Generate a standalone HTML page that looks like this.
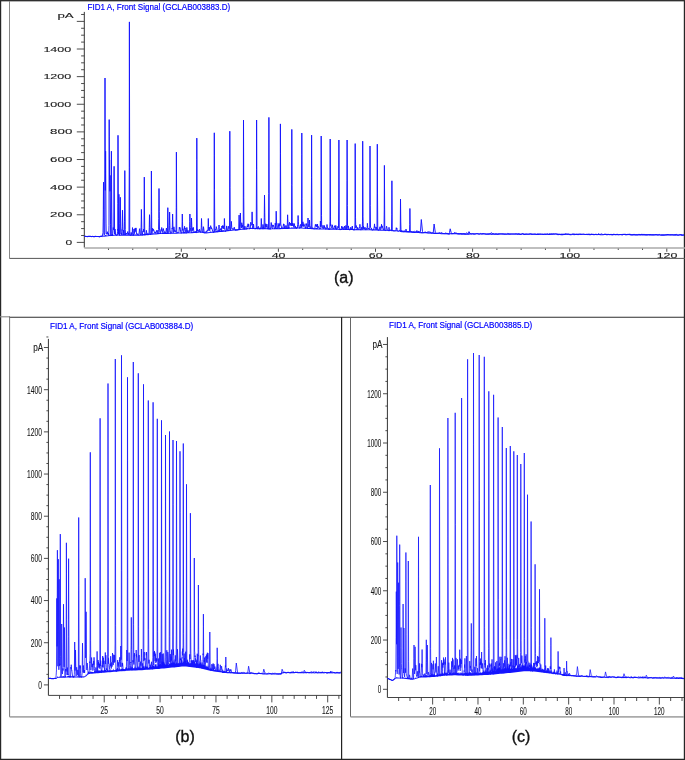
<!DOCTYPE html>
<html><head><meta charset="utf-8"><style>
html,body{margin:0;padding:0;background:#fff;}
svg{display:block;will-change:transform;}
.ta{font-family:"Liberation Sans",sans-serif;font-size:7px;fill:#1a1a1a;stroke:#1a1a1a;stroke-width:0.1px;}
.tb{font-family:"Liberation Sans",sans-serif;font-size:11px;fill:#1a1a1a;stroke:#1a1a1a;stroke-width:0.12px;}
.tt{font-family:"Liberation Sans",sans-serif;font-size:9.5px;fill:#0000ff;stroke:#0000ff;stroke-width:0.2px;}
.lab{font-family:"Liberation Sans",sans-serif;font-size:16px;fill:#111;stroke:#111;stroke-width:0.35px;}
</style></head><body>
<svg width="685" height="760" viewBox="0 0 685 760">
<rect x="0" y="0" width="685" height="760" fill="#fff"/>
<rect x="0.55" y="0.7" width="683.9" height="758.7" fill="none" stroke="#262626" stroke-width="1.3"/>
<line x1="9.5" y1="1" x2="9.5" y2="258.5" stroke="#888" stroke-width="1"/>
<line x1="9.5" y1="258.4" x2="685" y2="258.4" stroke="#555" stroke-width="1"/>
<line x1="0" y1="316.8" x2="10" y2="316.8" stroke="#888" stroke-width="1.1"/>
<line x1="9" y1="317.2" x2="685" y2="317.2" stroke="#2e2e2e" stroke-width="1.1"/>
<line x1="341.6" y1="316.9" x2="341.6" y2="760" stroke="#222" stroke-width="1.2"/>
<line x1="9.6" y1="317" x2="9.6" y2="717" stroke="#777" stroke-width="1"/>
<line x1="9.6" y1="716.9" x2="341" y2="716.9" stroke="#aaa" stroke-width="1.6"/>
<line x1="350.5" y1="317" x2="350.5" y2="717" stroke="#666" stroke-width="1"/>
<line x1="350.5" y1="716.9" x2="684" y2="716.9" stroke="#aaa" stroke-width="1.6"/>
<text x="87.6" y="9.9" class="tt" style="font-size:9.2px" textLength="142.6" lengthAdjust="spacingAndGlyphs">FID1 A, Front Signal (GCLAB003883.D)</text>
<text x="50.0" y="329.3" class="tt" style="font-size:8.7px" textLength="143.2" lengthAdjust="spacingAndGlyphs">FID1 A, Front Signal (GCLAB003884.D)</text>
<text x="389.1" y="328.2" class="tt" style="font-size:8.7px" textLength="143.1" lengthAdjust="spacingAndGlyphs">FID1 A, Front Signal (GCLAB003885.D)</text>
<line x1="84.3" y1="11.9" x2="84.3" y2="247.6" stroke="#333" stroke-width="1"/>
<line x1="76.8" y1="242.4" x2="84.3" y2="242.4" stroke="#3a3a3a" stroke-width="0.9"/>
<line x1="81.1" y1="235.49" x2="84.3" y2="235.49" stroke="#3a3a3a" stroke-width="0.9"/>
<line x1="81.1" y1="228.59" x2="84.3" y2="228.59" stroke="#3a3a3a" stroke-width="0.9"/>
<line x1="81.1" y1="221.68" x2="84.3" y2="221.68" stroke="#3a3a3a" stroke-width="0.9"/>
<line x1="76.8" y1="214.77" x2="84.3" y2="214.77" stroke="#3a3a3a" stroke-width="0.9"/>
<line x1="81.1" y1="207.87" x2="84.3" y2="207.87" stroke="#3a3a3a" stroke-width="0.9"/>
<line x1="81.1" y1="200.96" x2="84.3" y2="200.96" stroke="#3a3a3a" stroke-width="0.9"/>
<line x1="81.1" y1="194.05" x2="84.3" y2="194.05" stroke="#3a3a3a" stroke-width="0.9"/>
<line x1="76.8" y1="187.14" x2="84.3" y2="187.14" stroke="#3a3a3a" stroke-width="0.9"/>
<line x1="81.1" y1="180.24" x2="84.3" y2="180.24" stroke="#3a3a3a" stroke-width="0.9"/>
<line x1="81.1" y1="173.33" x2="84.3" y2="173.33" stroke="#3a3a3a" stroke-width="0.9"/>
<line x1="81.1" y1="166.42" x2="84.3" y2="166.42" stroke="#3a3a3a" stroke-width="0.9"/>
<line x1="76.8" y1="159.52" x2="84.3" y2="159.52" stroke="#3a3a3a" stroke-width="0.9"/>
<line x1="81.1" y1="152.61" x2="84.3" y2="152.61" stroke="#3a3a3a" stroke-width="0.9"/>
<line x1="81.1" y1="145.7" x2="84.3" y2="145.7" stroke="#3a3a3a" stroke-width="0.9"/>
<line x1="81.1" y1="138.8" x2="84.3" y2="138.8" stroke="#3a3a3a" stroke-width="0.9"/>
<line x1="76.8" y1="131.89" x2="84.3" y2="131.89" stroke="#3a3a3a" stroke-width="0.9"/>
<line x1="81.1" y1="124.98" x2="84.3" y2="124.98" stroke="#3a3a3a" stroke-width="0.9"/>
<line x1="81.1" y1="118.07" x2="84.3" y2="118.07" stroke="#3a3a3a" stroke-width="0.9"/>
<line x1="81.1" y1="111.17" x2="84.3" y2="111.17" stroke="#3a3a3a" stroke-width="0.9"/>
<line x1="76.8" y1="104.26" x2="84.3" y2="104.26" stroke="#3a3a3a" stroke-width="0.9"/>
<line x1="81.1" y1="97.35" x2="84.3" y2="97.35" stroke="#3a3a3a" stroke-width="0.9"/>
<line x1="81.1" y1="90.45" x2="84.3" y2="90.45" stroke="#3a3a3a" stroke-width="0.9"/>
<line x1="81.1" y1="83.54" x2="84.3" y2="83.54" stroke="#3a3a3a" stroke-width="0.9"/>
<line x1="76.8" y1="76.63" x2="84.3" y2="76.63" stroke="#3a3a3a" stroke-width="0.9"/>
<line x1="81.1" y1="69.72" x2="84.3" y2="69.72" stroke="#3a3a3a" stroke-width="0.9"/>
<line x1="81.1" y1="62.82" x2="84.3" y2="62.82" stroke="#3a3a3a" stroke-width="0.9"/>
<line x1="81.1" y1="55.91" x2="84.3" y2="55.91" stroke="#3a3a3a" stroke-width="0.9"/>
<line x1="76.8" y1="49" x2="84.3" y2="49" stroke="#3a3a3a" stroke-width="0.9"/>
<line x1="81.1" y1="42.1" x2="84.3" y2="42.1" stroke="#3a3a3a" stroke-width="0.9"/>
<line x1="81.1" y1="35.19" x2="84.3" y2="35.19" stroke="#3a3a3a" stroke-width="0.9"/>
<line x1="81.1" y1="28.28" x2="84.3" y2="28.28" stroke="#3a3a3a" stroke-width="0.9"/>
<line x1="76.8" y1="21.38" x2="84.3" y2="21.38" stroke="#3a3a3a" stroke-width="0.9"/>
<line x1="81.1" y1="14.47" x2="84.3" y2="14.47" stroke="#3a3a3a" stroke-width="0.9"/>
<text x="65.6" y="245" textLength="6.7" lengthAdjust="spacingAndGlyphs" class="ta">0</text>
<text x="50.1" y="217.37" textLength="22.2" lengthAdjust="spacingAndGlyphs" class="ta">200</text>
<text x="50.1" y="189.74" textLength="22.2" lengthAdjust="spacingAndGlyphs" class="ta">400</text>
<text x="50.1" y="162.12" textLength="22.2" lengthAdjust="spacingAndGlyphs" class="ta">600</text>
<text x="50.1" y="134.49" textLength="22.2" lengthAdjust="spacingAndGlyphs" class="ta">800</text>
<text x="43.4" y="106.86" textLength="27.9" lengthAdjust="spacingAndGlyphs" class="ta">1000</text>
<text x="43.4" y="79.23" textLength="27.9" lengthAdjust="spacingAndGlyphs" class="ta">1200</text>
<text x="43.4" y="51.6" textLength="27.9" lengthAdjust="spacingAndGlyphs" class="ta">1400</text>
<text x="57.4" y="17.6" textLength="16.3" lengthAdjust="spacingAndGlyphs" class="ta">pA</text>
<line x1="84.3" y1="248" x2="685" y2="248" stroke="#aaa" stroke-width="1.4"/>
<line x1="108.48" y1="248.6" x2="108.48" y2="250" stroke="#3a3a3a" stroke-width="0.9"/>
<line x1="132.75" y1="248.6" x2="132.75" y2="250" stroke="#3a3a3a" stroke-width="0.9"/>
<line x1="157.03" y1="248.6" x2="157.03" y2="250" stroke="#3a3a3a" stroke-width="0.9"/>
<line x1="181.3" y1="248.6" x2="181.3" y2="251.8" stroke="#3a3a3a" stroke-width="0.9"/>
<text x="174.6" y="258.1" textLength="13.8" lengthAdjust="spacingAndGlyphs" class="ta">20</text>
<line x1="205.58" y1="248.6" x2="205.58" y2="250" stroke="#3a3a3a" stroke-width="0.9"/>
<line x1="229.85" y1="248.6" x2="229.85" y2="250" stroke="#3a3a3a" stroke-width="0.9"/>
<line x1="254.12" y1="248.6" x2="254.12" y2="250" stroke="#3a3a3a" stroke-width="0.9"/>
<line x1="278.4" y1="248.6" x2="278.4" y2="251.8" stroke="#3a3a3a" stroke-width="0.9"/>
<text x="271.7" y="258.1" textLength="13.8" lengthAdjust="spacingAndGlyphs" class="ta">40</text>
<line x1="302.68" y1="248.6" x2="302.68" y2="250" stroke="#3a3a3a" stroke-width="0.9"/>
<line x1="326.95" y1="248.6" x2="326.95" y2="250" stroke="#3a3a3a" stroke-width="0.9"/>
<line x1="351.23" y1="248.6" x2="351.23" y2="250" stroke="#3a3a3a" stroke-width="0.9"/>
<line x1="375.5" y1="248.6" x2="375.5" y2="251.8" stroke="#3a3a3a" stroke-width="0.9"/>
<text x="368.8" y="258.1" textLength="13.8" lengthAdjust="spacingAndGlyphs" class="ta">60</text>
<line x1="399.78" y1="248.6" x2="399.78" y2="250" stroke="#3a3a3a" stroke-width="0.9"/>
<line x1="424.05" y1="248.6" x2="424.05" y2="250" stroke="#3a3a3a" stroke-width="0.9"/>
<line x1="448.33" y1="248.6" x2="448.33" y2="250" stroke="#3a3a3a" stroke-width="0.9"/>
<line x1="472.6" y1="248.6" x2="472.6" y2="251.8" stroke="#3a3a3a" stroke-width="0.9"/>
<text x="465.9" y="258.1" textLength="13.8" lengthAdjust="spacingAndGlyphs" class="ta">80</text>
<line x1="496.88" y1="248.6" x2="496.88" y2="250" stroke="#3a3a3a" stroke-width="0.9"/>
<line x1="521.15" y1="248.6" x2="521.15" y2="250" stroke="#3a3a3a" stroke-width="0.9"/>
<line x1="545.43" y1="248.6" x2="545.43" y2="250" stroke="#3a3a3a" stroke-width="0.9"/>
<line x1="569.7" y1="248.6" x2="569.7" y2="251.8" stroke="#3a3a3a" stroke-width="0.9"/>
<text x="559.55" y="258.1" textLength="20.7" lengthAdjust="spacingAndGlyphs" class="ta">100</text>
<line x1="593.98" y1="248.6" x2="593.98" y2="250" stroke="#3a3a3a" stroke-width="0.9"/>
<line x1="618.25" y1="248.6" x2="618.25" y2="250" stroke="#3a3a3a" stroke-width="0.9"/>
<line x1="642.53" y1="248.6" x2="642.53" y2="250" stroke="#3a3a3a" stroke-width="0.9"/>
<line x1="666.8" y1="248.6" x2="666.8" y2="251.8" stroke="#3a3a3a" stroke-width="0.9"/>
<text x="656.65" y="258.1" textLength="20.7" lengthAdjust="spacingAndGlyphs" class="ta">120</text>
<line x1="48.4" y1="338.9" x2="48.4" y2="695.4" stroke="#333" stroke-width="1"/>
<line x1="43.9" y1="684.9" x2="48.4" y2="684.9" stroke="#3a3a3a" stroke-width="0.9"/>
<line x1="46.4" y1="674.36" x2="48.4" y2="674.36" stroke="#3a3a3a" stroke-width="0.9"/>
<line x1="46.4" y1="663.81" x2="48.4" y2="663.81" stroke="#3a3a3a" stroke-width="0.9"/>
<line x1="46.4" y1="653.27" x2="48.4" y2="653.27" stroke="#3a3a3a" stroke-width="0.9"/>
<line x1="43.9" y1="642.73" x2="48.4" y2="642.73" stroke="#3a3a3a" stroke-width="0.9"/>
<line x1="46.4" y1="632.18" x2="48.4" y2="632.18" stroke="#3a3a3a" stroke-width="0.9"/>
<line x1="46.4" y1="621.64" x2="48.4" y2="621.64" stroke="#3a3a3a" stroke-width="0.9"/>
<line x1="46.4" y1="611.1" x2="48.4" y2="611.1" stroke="#3a3a3a" stroke-width="0.9"/>
<line x1="43.9" y1="600.56" x2="48.4" y2="600.56" stroke="#3a3a3a" stroke-width="0.9"/>
<line x1="46.4" y1="590.01" x2="48.4" y2="590.01" stroke="#3a3a3a" stroke-width="0.9"/>
<line x1="46.4" y1="579.47" x2="48.4" y2="579.47" stroke="#3a3a3a" stroke-width="0.9"/>
<line x1="46.4" y1="568.93" x2="48.4" y2="568.93" stroke="#3a3a3a" stroke-width="0.9"/>
<line x1="43.9" y1="558.38" x2="48.4" y2="558.38" stroke="#3a3a3a" stroke-width="0.9"/>
<line x1="46.4" y1="547.84" x2="48.4" y2="547.84" stroke="#3a3a3a" stroke-width="0.9"/>
<line x1="46.4" y1="537.3" x2="48.4" y2="537.3" stroke="#3a3a3a" stroke-width="0.9"/>
<line x1="46.4" y1="526.75" x2="48.4" y2="526.75" stroke="#3a3a3a" stroke-width="0.9"/>
<line x1="43.9" y1="516.21" x2="48.4" y2="516.21" stroke="#3a3a3a" stroke-width="0.9"/>
<line x1="46.4" y1="505.67" x2="48.4" y2="505.67" stroke="#3a3a3a" stroke-width="0.9"/>
<line x1="46.4" y1="495.13" x2="48.4" y2="495.13" stroke="#3a3a3a" stroke-width="0.9"/>
<line x1="46.4" y1="484.58" x2="48.4" y2="484.58" stroke="#3a3a3a" stroke-width="0.9"/>
<line x1="43.9" y1="474.04" x2="48.4" y2="474.04" stroke="#3a3a3a" stroke-width="0.9"/>
<line x1="46.4" y1="463.5" x2="48.4" y2="463.5" stroke="#3a3a3a" stroke-width="0.9"/>
<line x1="46.4" y1="452.95" x2="48.4" y2="452.95" stroke="#3a3a3a" stroke-width="0.9"/>
<line x1="46.4" y1="442.41" x2="48.4" y2="442.41" stroke="#3a3a3a" stroke-width="0.9"/>
<line x1="43.9" y1="431.87" x2="48.4" y2="431.87" stroke="#3a3a3a" stroke-width="0.9"/>
<line x1="46.4" y1="421.32" x2="48.4" y2="421.32" stroke="#3a3a3a" stroke-width="0.9"/>
<line x1="46.4" y1="410.78" x2="48.4" y2="410.78" stroke="#3a3a3a" stroke-width="0.9"/>
<line x1="46.4" y1="400.24" x2="48.4" y2="400.24" stroke="#3a3a3a" stroke-width="0.9"/>
<line x1="43.9" y1="389.7" x2="48.4" y2="389.7" stroke="#3a3a3a" stroke-width="0.9"/>
<line x1="46.4" y1="379.15" x2="48.4" y2="379.15" stroke="#3a3a3a" stroke-width="0.9"/>
<line x1="46.4" y1="368.61" x2="48.4" y2="368.61" stroke="#3a3a3a" stroke-width="0.9"/>
<line x1="46.4" y1="358.07" x2="48.4" y2="358.07" stroke="#3a3a3a" stroke-width="0.9"/>
<line x1="43.9" y1="347.52" x2="48.4" y2="347.52" stroke="#3a3a3a" stroke-width="0.9"/>
<line x1="46.4" y1="336.98" x2="48.4" y2="336.98" stroke="#3a3a3a" stroke-width="0.9"/>
<text x="38.28" y="688.8" textLength="3.72" lengthAdjust="spacingAndGlyphs" class="tb">0</text>
<text x="30.84" y="646.63" textLength="11.16" lengthAdjust="spacingAndGlyphs" class="tb">200</text>
<text x="30.84" y="604.46" textLength="11.16" lengthAdjust="spacingAndGlyphs" class="tb">400</text>
<text x="30.84" y="562.28" textLength="11.16" lengthAdjust="spacingAndGlyphs" class="tb">600</text>
<text x="30.84" y="520.11" textLength="11.16" lengthAdjust="spacingAndGlyphs" class="tb">800</text>
<text x="27.12" y="477.94" textLength="14.88" lengthAdjust="spacingAndGlyphs" class="tb">1000</text>
<text x="27.12" y="435.77" textLength="14.88" lengthAdjust="spacingAndGlyphs" class="tb">1200</text>
<text x="27.12" y="393.6" textLength="14.88" lengthAdjust="spacingAndGlyphs" class="tb">1400</text>
<text x="33.2" y="351.42" textLength="10" lengthAdjust="spacingAndGlyphs" class="tb">pA</text>
<line x1="48.4" y1="695.4" x2="341" y2="695.4" stroke="#444" stroke-width="1"/>
<line x1="59.52" y1="695.4" x2="59.52" y2="698.9" stroke="#3a3a3a" stroke-width="0.9"/>
<line x1="70.7" y1="695.4" x2="70.7" y2="698.9" stroke="#3a3a3a" stroke-width="0.9"/>
<line x1="81.87" y1="695.4" x2="81.87" y2="698.9" stroke="#3a3a3a" stroke-width="0.9"/>
<line x1="93.05" y1="695.4" x2="93.05" y2="698.9" stroke="#3a3a3a" stroke-width="0.9"/>
<line x1="104.22" y1="695.4" x2="104.22" y2="702.4" stroke="#3a3a3a" stroke-width="0.9"/>
<text x="100.5" y="714.2" textLength="7.44" lengthAdjust="spacingAndGlyphs" class="tb">25</text>
<line x1="115.39" y1="695.4" x2="115.39" y2="698.9" stroke="#3a3a3a" stroke-width="0.9"/>
<line x1="126.57" y1="695.4" x2="126.57" y2="698.9" stroke="#3a3a3a" stroke-width="0.9"/>
<line x1="137.74" y1="695.4" x2="137.74" y2="698.9" stroke="#3a3a3a" stroke-width="0.9"/>
<line x1="148.92" y1="695.4" x2="148.92" y2="698.9" stroke="#3a3a3a" stroke-width="0.9"/>
<line x1="160.09" y1="695.4" x2="160.09" y2="702.4" stroke="#3a3a3a" stroke-width="0.9"/>
<text x="156.37" y="714.2" textLength="7.44" lengthAdjust="spacingAndGlyphs" class="tb">50</text>
<line x1="171.26" y1="695.4" x2="171.26" y2="698.9" stroke="#3a3a3a" stroke-width="0.9"/>
<line x1="182.44" y1="695.4" x2="182.44" y2="698.9" stroke="#3a3a3a" stroke-width="0.9"/>
<line x1="193.61" y1="695.4" x2="193.61" y2="698.9" stroke="#3a3a3a" stroke-width="0.9"/>
<line x1="204.79" y1="695.4" x2="204.79" y2="698.9" stroke="#3a3a3a" stroke-width="0.9"/>
<line x1="215.96" y1="695.4" x2="215.96" y2="702.4" stroke="#3a3a3a" stroke-width="0.9"/>
<text x="212.24" y="714.2" textLength="7.44" lengthAdjust="spacingAndGlyphs" class="tb">75</text>
<line x1="227.13" y1="695.4" x2="227.13" y2="698.9" stroke="#3a3a3a" stroke-width="0.9"/>
<line x1="238.31" y1="695.4" x2="238.31" y2="698.9" stroke="#3a3a3a" stroke-width="0.9"/>
<line x1="249.48" y1="695.4" x2="249.48" y2="698.9" stroke="#3a3a3a" stroke-width="0.9"/>
<line x1="260.66" y1="695.4" x2="260.66" y2="698.9" stroke="#3a3a3a" stroke-width="0.9"/>
<line x1="271.83" y1="695.4" x2="271.83" y2="702.4" stroke="#3a3a3a" stroke-width="0.9"/>
<text x="266.25" y="714.2" textLength="11.16" lengthAdjust="spacingAndGlyphs" class="tb">100</text>
<line x1="283" y1="695.4" x2="283" y2="698.9" stroke="#3a3a3a" stroke-width="0.9"/>
<line x1="294.18" y1="695.4" x2="294.18" y2="698.9" stroke="#3a3a3a" stroke-width="0.9"/>
<line x1="305.35" y1="695.4" x2="305.35" y2="698.9" stroke="#3a3a3a" stroke-width="0.9"/>
<line x1="316.53" y1="695.4" x2="316.53" y2="698.9" stroke="#3a3a3a" stroke-width="0.9"/>
<line x1="327.7" y1="695.4" x2="327.7" y2="702.4" stroke="#3a3a3a" stroke-width="0.9"/>
<text x="322.12" y="714.2" textLength="11.16" lengthAdjust="spacingAndGlyphs" class="tb">125</text>
<line x1="338.87" y1="695.4" x2="338.87" y2="698.9" stroke="#3a3a3a" stroke-width="0.9"/>
<line x1="387.4" y1="337.1" x2="387.4" y2="697.5" stroke="#333" stroke-width="1"/>
<line x1="383" y1="689.3" x2="387.4" y2="689.3" stroke="#3a3a3a" stroke-width="0.9"/>
<line x1="385.4" y1="676.98" x2="387.4" y2="676.98" stroke="#3a3a3a" stroke-width="0.9"/>
<line x1="385.4" y1="664.67" x2="387.4" y2="664.67" stroke="#3a3a3a" stroke-width="0.9"/>
<line x1="385.4" y1="652.35" x2="387.4" y2="652.35" stroke="#3a3a3a" stroke-width="0.9"/>
<line x1="383" y1="640.04" x2="387.4" y2="640.04" stroke="#3a3a3a" stroke-width="0.9"/>
<line x1="385.4" y1="627.72" x2="387.4" y2="627.72" stroke="#3a3a3a" stroke-width="0.9"/>
<line x1="385.4" y1="615.41" x2="387.4" y2="615.41" stroke="#3a3a3a" stroke-width="0.9"/>
<line x1="385.4" y1="603.09" x2="387.4" y2="603.09" stroke="#3a3a3a" stroke-width="0.9"/>
<line x1="383" y1="590.78" x2="387.4" y2="590.78" stroke="#3a3a3a" stroke-width="0.9"/>
<line x1="385.4" y1="578.46" x2="387.4" y2="578.46" stroke="#3a3a3a" stroke-width="0.9"/>
<line x1="385.4" y1="566.15" x2="387.4" y2="566.15" stroke="#3a3a3a" stroke-width="0.9"/>
<line x1="385.4" y1="553.83" x2="387.4" y2="553.83" stroke="#3a3a3a" stroke-width="0.9"/>
<line x1="383" y1="541.52" x2="387.4" y2="541.52" stroke="#3a3a3a" stroke-width="0.9"/>
<line x1="385.4" y1="529.2" x2="387.4" y2="529.2" stroke="#3a3a3a" stroke-width="0.9"/>
<line x1="385.4" y1="516.89" x2="387.4" y2="516.89" stroke="#3a3a3a" stroke-width="0.9"/>
<line x1="385.4" y1="504.57" x2="387.4" y2="504.57" stroke="#3a3a3a" stroke-width="0.9"/>
<line x1="383" y1="492.26" x2="387.4" y2="492.26" stroke="#3a3a3a" stroke-width="0.9"/>
<line x1="385.4" y1="479.94" x2="387.4" y2="479.94" stroke="#3a3a3a" stroke-width="0.9"/>
<line x1="385.4" y1="467.63" x2="387.4" y2="467.63" stroke="#3a3a3a" stroke-width="0.9"/>
<line x1="385.4" y1="455.31" x2="387.4" y2="455.31" stroke="#3a3a3a" stroke-width="0.9"/>
<line x1="383" y1="443" x2="387.4" y2="443" stroke="#3a3a3a" stroke-width="0.9"/>
<line x1="385.4" y1="430.68" x2="387.4" y2="430.68" stroke="#3a3a3a" stroke-width="0.9"/>
<line x1="385.4" y1="418.37" x2="387.4" y2="418.37" stroke="#3a3a3a" stroke-width="0.9"/>
<line x1="385.4" y1="406.05" x2="387.4" y2="406.05" stroke="#3a3a3a" stroke-width="0.9"/>
<line x1="383" y1="393.74" x2="387.4" y2="393.74" stroke="#3a3a3a" stroke-width="0.9"/>
<line x1="385.4" y1="381.42" x2="387.4" y2="381.42" stroke="#3a3a3a" stroke-width="0.9"/>
<line x1="385.4" y1="369.11" x2="387.4" y2="369.11" stroke="#3a3a3a" stroke-width="0.9"/>
<line x1="385.4" y1="356.79" x2="387.4" y2="356.79" stroke="#3a3a3a" stroke-width="0.9"/>
<line x1="383" y1="344.48" x2="387.4" y2="344.48" stroke="#3a3a3a" stroke-width="0.9"/>
<text x="377.7" y="693.2" textLength="3.5" lengthAdjust="spacingAndGlyphs" class="tb">0</text>
<text x="370.7" y="643.94" textLength="10.5" lengthAdjust="spacingAndGlyphs" class="tb">200</text>
<text x="370.7" y="594.68" textLength="10.5" lengthAdjust="spacingAndGlyphs" class="tb">400</text>
<text x="370.7" y="545.42" textLength="10.5" lengthAdjust="spacingAndGlyphs" class="tb">600</text>
<text x="370.7" y="496.16" textLength="10.5" lengthAdjust="spacingAndGlyphs" class="tb">800</text>
<text x="367.2" y="446.9" textLength="14" lengthAdjust="spacingAndGlyphs" class="tb">1000</text>
<text x="367.2" y="397.64" textLength="14" lengthAdjust="spacingAndGlyphs" class="tb">1200</text>
<text x="372.4" y="348.38" textLength="10" lengthAdjust="spacingAndGlyphs" class="tb">pA</text>
<line x1="387.4" y1="697.5" x2="684" y2="697.5" stroke="#444" stroke-width="1"/>
<line x1="398.63" y1="697.5" x2="398.63" y2="701" stroke="#3a3a3a" stroke-width="0.9"/>
<line x1="409.97" y1="697.5" x2="409.97" y2="701" stroke="#3a3a3a" stroke-width="0.9"/>
<line x1="421.31" y1="697.5" x2="421.31" y2="701" stroke="#3a3a3a" stroke-width="0.9"/>
<line x1="432.64" y1="697.5" x2="432.64" y2="704.5" stroke="#3a3a3a" stroke-width="0.9"/>
<text x="429.14" y="714.8" textLength="7" lengthAdjust="spacingAndGlyphs" class="tb">20</text>
<line x1="443.98" y1="697.5" x2="443.98" y2="701" stroke="#3a3a3a" stroke-width="0.9"/>
<line x1="455.31" y1="697.5" x2="455.31" y2="701" stroke="#3a3a3a" stroke-width="0.9"/>
<line x1="466.64" y1="697.5" x2="466.64" y2="701" stroke="#3a3a3a" stroke-width="0.9"/>
<line x1="477.98" y1="697.5" x2="477.98" y2="704.5" stroke="#3a3a3a" stroke-width="0.9"/>
<text x="474.48" y="714.8" textLength="7" lengthAdjust="spacingAndGlyphs" class="tb">40</text>
<line x1="489.31" y1="697.5" x2="489.31" y2="701" stroke="#3a3a3a" stroke-width="0.9"/>
<line x1="500.65" y1="697.5" x2="500.65" y2="701" stroke="#3a3a3a" stroke-width="0.9"/>
<line x1="511.99" y1="697.5" x2="511.99" y2="701" stroke="#3a3a3a" stroke-width="0.9"/>
<line x1="523.32" y1="697.5" x2="523.32" y2="704.5" stroke="#3a3a3a" stroke-width="0.9"/>
<text x="519.82" y="714.8" textLength="7" lengthAdjust="spacingAndGlyphs" class="tb">60</text>
<line x1="534.65" y1="697.5" x2="534.65" y2="701" stroke="#3a3a3a" stroke-width="0.9"/>
<line x1="545.99" y1="697.5" x2="545.99" y2="701" stroke="#3a3a3a" stroke-width="0.9"/>
<line x1="557.33" y1="697.5" x2="557.33" y2="701" stroke="#3a3a3a" stroke-width="0.9"/>
<line x1="568.66" y1="697.5" x2="568.66" y2="704.5" stroke="#3a3a3a" stroke-width="0.9"/>
<text x="565.16" y="714.8" textLength="7" lengthAdjust="spacingAndGlyphs" class="tb">80</text>
<line x1="580" y1="697.5" x2="580" y2="701" stroke="#3a3a3a" stroke-width="0.9"/>
<line x1="591.33" y1="697.5" x2="591.33" y2="701" stroke="#3a3a3a" stroke-width="0.9"/>
<line x1="602.66" y1="697.5" x2="602.66" y2="701" stroke="#3a3a3a" stroke-width="0.9"/>
<line x1="614" y1="697.5" x2="614" y2="704.5" stroke="#3a3a3a" stroke-width="0.9"/>
<text x="608.75" y="714.8" textLength="10.5" lengthAdjust="spacingAndGlyphs" class="tb">100</text>
<line x1="625.34" y1="697.5" x2="625.34" y2="701" stroke="#3a3a3a" stroke-width="0.9"/>
<line x1="636.67" y1="697.5" x2="636.67" y2="701" stroke="#3a3a3a" stroke-width="0.9"/>
<line x1="648" y1="697.5" x2="648" y2="701" stroke="#3a3a3a" stroke-width="0.9"/>
<line x1="659.34" y1="697.5" x2="659.34" y2="704.5" stroke="#3a3a3a" stroke-width="0.9"/>
<text x="654.09" y="714.8" textLength="10.5" lengthAdjust="spacingAndGlyphs" class="tb">120</text>
<line x1="670.67" y1="697.5" x2="670.67" y2="701" stroke="#3a3a3a" stroke-width="0.9"/>
<line x1="682.01" y1="697.5" x2="682.01" y2="701" stroke="#3a3a3a" stroke-width="0.9"/>
<g fill="#1414ff" stroke="none">
<path d="M102.5 236.5 103 235.91 103.5 235.39 104 235.51 104.5 235.69 105 235.05 105.5 234.98 106 235.28 106.5 235.24 107 235.43 107.5 235.49 108 235.23 108.5 234.96 109 235.33 109.5 234.61 110 235.15 110.5 235.1 111 235.15 111.5 234.14 112 234.44 112.5 234.22 113 234.5 113.5 234.91 114 234.69 114.5 234.48 115 234.74 115.5 233.87 116 234.56 116.5 234.73 117 234.07 117.5 234.75 118 233.93 118.5 234.51 119 234.41 119.5 234.62 120 234.49 120.5 234.74 121 234.82 121.5 234.04 122 234.72 122.5 234.16 123 234.75 123.5 233.91 124 234.02 124.5 234.21 125 234.21 125.5 234.43 126 234.26 126.5 234.83 127 234.55 127.5 234.14 128 234.79 128.5 234.02 129 234.07 129.5 234.64 130 234.68 130.5 234.6 131 234.67 131.5 233.94 132 234.68 132.5 234.91 133 234.89 133.5 234.33 134 233.96 134.5 234.59 135 234.6 135.5 234.54 136 234.31 136.5 234.84 137 234.49 137.5 234.55 138 234.48 138.5 234.89 139 234.9 139.5 234.77 140 234.1 140.5 234.73 141 234.42 141.5 234.66 142 234.74 142.5 234.71 143 233.96 143.5 233.96 144 234.35 144.5 233.97 145 233.93 145.5 233.59 146 233.46 146.5 234.07 147 233.32 147.5 233.31 148 233.73 148.5 233.32 149 233.74 149.5 233.8 150 233.86 150.5 233.14 151 233.84 151.5 233.85 152 233.13 152.5 233.14 153 233.44 153.5 232.98 154 233.68 154.5 233.53 155 233.47 155.5 233.33 156 233.49 156.5 233.5 157 233.29 157.5 232.62 158 232.46 158.5 232.75 159 233.02 159.5 233.19 160 232.36 160.5 232.89 161 232.64 161.5 233.23 162 233.13 162.5 232.46 163 232.5 163.5 232.37 164 232.71 164.5 232.88 165 232.71 165.5 232.37 166 232.95 166.5 232.72 167 232.95 167.5 232.42 168 233.06 168.5 232.5 169 232.13 169.5 233.02 170 232.56 170.5 232.49 171 232.22 171.5 232.53 172 232.83 172.5 232.69 173 232.01 173.5 232.07 174 232.85 174.5 232.86 175 232.85 175.5 232.86 176 232.56 176.5 232.78 177 232.03 177.5 232.29 178 232.75 178.5 232.4 179 232.59 179.5 232.42 180 232.64 180.5 232.66 181 232.64 181.5 232.48 182 232.11 182.5 232.28 183 232.65 183.5 232.06 184 231.84 184.5 231.96 185 231.92 185.5 232.59 186 232.27 186.5 232.55 187 231.9 187.5 232.47 188 231.94 188.5 232.39 189 231.93 189.5 232.32 190 232.47 190.5 232.2 191 232.24 191.5 231.54 192 232.18 192.5 231.95 193 231.87 193.5 231.33 194 232.16 194.5 231.71 195 231.77 195.5 231.48 196 231.13 196.5 231.85 197 231.41 197.5 231.58 198 231.51 198.5 231.86 199 231.13 199.5 230.87 200 231.57 200.5 231.67 201 230.94 201.5 231.94 202 232.02 202.5 232.09 203 231.46 203.5 231.6 204 232.02 204.5 231.9 205 232.44 205.5 232 206 232.29 206.5 232.17 207 232.24 207.5 232.19 208 232.28 208.5 232.33 209 232.02 209.5 232.13 210 231.62 210.5 231.43 211 231.51 211.5 231.76 212 231.9 212.5 231.73 213 231.59 213.5 231.38 214 230.9 214.5 231.75 215 231.41 215.5 231.35 216 231.05 216.5 230.77 217 230.87 217.5 231.01 218 230.81 218.5 230.87 219 230.58 219.5 230.74 220 230.71 220.5 231.1 221 230.31 221.5 230.89 222 230.61 222.5 230.29 223 230.05 223.5 229.96 224 230.86 224.5 230.64 225 230.58 225.5 230.46 226 230.59 226.5 230.19 227 230.52 227.5 230.32 228 229.54 228.5 229.75 229 230.02 229.5 230.24 230 229.31 230.5 229.59 231 230.02 231.5 229.87 232 229.5 232.5 229.4 233 229.77 233.5 228.94 234 229.61 234.5 229.61 235 228.92 235.5 229.57 236 229.03 236.5 229.44 237 229.03 237.5 229.29 238 229.16 238.5 228.45 239 228.98 239.5 228.97 240 228.73 240.5 229.01 241 229.04 241.5 228.83 242 228.88 242.5 228.89 243 228 243.5 228.87 244 228.12 244.5 227.9 245 228.16 245.5 228.69 246 228.3 246.5 228.59 247 228.09 247.5 227.93 248 228.34 248.5 228.41 249 227.97 249.5 228.29 250 228.1 250.5 227.92 251 227.35 251.5 227.97 252 228.15 252.5 227.52 253 227.49 253.5 227.85 254 228.23 254.5 228.17 255 228.01 255.5 227.87 256 228.18 256.5 227.59 257 227.55 257.5 227.44 258 227.51 258.5 228.33 259 227.91 259.5 228.33 260 227.53 260.5 227.75 261 227.74 261.5 228.32 262 228.39 262.5 227.7 263 227.97 263.5 227.96 264 228.13 264.5 227.76 265 228.28 265.5 228.34 266 228.29 266.5 228.34 267 228.03 267.5 227.7 268 228.51 268.5 228.53 269 228.2 269.5 228.02 270 228.49 270.5 228.42 271 228.53 271.5 228.53 272 228.18 272.5 227.96 273 227.98 273.5 228.42 274 228.44 274.5 227.58 275 228.06 275.5 228.17 276 227.86 276.5 227.8 277 228.02 277.5 228.35 278 227.63 278.5 228.25 279 228.33 279.5 228.12 280 227.93 280.5 227.81 281 228.21 281.5 227.69 282 227.92 282.5 228.18 283 227.46 283.5 227.51 284 227.36 284.5 227.64 285 228.08 285.5 227.49 286 227.31 286.5 227.75 287 227.26 287.5 227.16 288 227.84 288.5 227.17 289 227.16 289.5 227.34 290 228.01 290.5 227.79 291 227.51 291.5 227.5 292 227.3 292.5 227.42 293 227.85 293.5 227.02 294 227.49 294.5 227.05 295 227.75 295.5 226.85 296 227.41 296.5 227.13 297 227.15 297.5 226.95 298 227.53 298.5 227.7 299 227.46 299.5 227.62 300 227.29 300.5 226.99 301 227.52 301.5 227.72 302 227.79 302.5 227.56 303 227.43 303.5 227.88 304 227.4 304.5 227.86 305 227.95 305.5 227.15 306 227.68 306.5 227.26 307 227.75 307.5 228.09 308 228.05 308.5 227.93 309 227.74 309.5 227.61 310 227.67 310.5 227.82 311 228.23 311.5 228.11 312 228.19 312.5 228.11 313 228.34 313.5 228.13 314 228.24 314.5 228.56 315 227.89 315.5 228.18 316 227.94 316.5 228.03 317 228.05 317.5 227.72 318 228.44 318.5 228.44 319 228.68 319.5 228.18 320 228.29 320.5 228.3 321 227.79 321.5 228.65 322 228.64 322.5 228.17 323 228.08 323.5 228.46 324 228.77 324.5 228.59 325 228.11 325.5 228.49 326 228.54 326.5 228.61 327 228.39 327.5 228.43 328 228.34 328.5 228.14 329 228.29 329.5 228.69 330 228.8 330.5 228.29 331 228.29 331.5 228.13 332 228.87 332.5 228.26 333 228.21 333.5 228.96 334 228.84 334.5 228.55 335 228.97 335.5 228.35 336 228.91 336.5 228.54 337 228.91 337.5 228.98 338 229 338.5 228.78 339 228.56 339.5 229.02 340 228.62 340.5 228.96 341 228.68 341.5 228.96 342 229.09 342.5 229.13 343 229.17 343.5 228.68 344 228.97 344.5 229.18 345 228.5 345.5 228.77 346 229.24 346.5 228.71 347 228.86 347.5 229.01 348 228.97 348.5 228.46 349 229.09 349.5 228.86 350 228.87 350.5 229.12 351 229.14 351.5 228.76 352 228.9 352.5 229.08 353 229.03 353.5 229.27 354 228.76 354.5 229.37 355 228.94 355.5 229.13 356 229.31 356.5 229.02 357 229.03 357.5 229.4 358 229.14 358.5 229.38 359 228.84 359.5 229.29 360 229.3 360.5 229.38 361 229.47 361.5 229.41 362 229.44 362.5 229.08 363 228.85 363.5 229.43 364 229.49 364.5 229.2 365 229.5 365.5 229.33 366 229 366.5 229.48 367 229.08 367.5 229.25 368 229.56 368.5 229.49 369 229.22 369.5 229.58 370 229.54 370.5 229.26 371 229.02 371.5 229.33 372 229.2 372.5 229.65 373 229.52 373.5 229.53 374 228.99 374.5 229.54 375 229.17 375.5 229.75 376 229.49 376.5 229.11 377 229.26 377.5 229.47 378 229.79 378.5 229.15 379 229.87 379.5 229.14 380 229.37 380.5 229.45 381 229.65 381.5 229.93 382 229.84 382.5 229.59 383 229.61 383.5 229.86 384 229.5 384.5 230.08 385 229.99 385.5 230.11 386 230 386.5 229.61 387 229.67 387.5 230.16 388 230.09 388.5 230.21 389 229.84 389.5 230.05 390 230.21 390.5 230.14 391 229.72 391.5 230.15 392 229.95 392.5 230.03 393 230.19 393.5 230.15 394 230.31 394.5 230.43 395 230.27 395.5 230.44 396 230.46 396.5 230.58 397 230.07 397.5 230.53 398 230.7 398.5 230.79 399 230.77 399.5 230.35 400 230.79 400.5 230.61 401 230.93 401.5 230.71 402 230.89 402.5 230.73 403 230.92 403.5 231.06 404 231.15 404.5 231.01 405 230.87 405.5 231.03 406 231.21 406.5 231.33 407 231.01 407.5 231.09 408 231.53 408.5 231.3 409 231.28 409.5 231.39 410 231.23 410.5 231.33 411 231.72 411.5 231.31 412 231.74 412.5 231.75 413 231.43 413.5 231.89 414 231.83 414.5 231.75 415 231.94 415.5 231.97 416 231.75 416.5 231.88 417 231.84 417.5 231.85 418 231.84 418.5 231.86 419 231.93 419.5 231.88 420 232.15 420.5 232.09 421 232.2 421.5 232.01 422 232.2 422.5 232.32 423 232.25 423.5 232.42 424 232.49 424.5 232.45 425 232.54 425.5 232.59 426 232.61 426.5 232.54 427 232.45 427.5 232.69 428 232.56 428.5 232.74 429 232.66 429.5 232.75 430 232.74 430.5 232.67 431 232.81 431.5 232.84 432 232.76 432.5 232.95 433 232.92 433.5 232.84 434 232.81 434.5 232.78 435 233.03 435.5 232.96 436 233.07 436.5 232.98 437 232.96 437.5 233.16 438 233.15 438.5 233 439 233.19 439.5 233.14 440 233.11 440.5 233.27 441 233.17 441.5 233.35 442 233.33 442.5 233.38 443 233.37 443.5 233.42 444 233.46 444.5 233.34 445 233.49 445.5 233.44 446 233.47 446.5 233.42 447 233.45 447.5 233.52 448 233.62 448.5 233.54 449 233.67 449.5 233.55 450 233.69 450.5 233.7 451 233.71 451.5 233.69 452 233.63 452.5 233.63 453 233.66 453.5 233.66 454 233.73 454.5 233.73 455 233.74 455.5 233.73 456 233.68 456.5 233.66 457 233.77 457.5 233.69 458 233.7 458.5 233.76 459 233.74 459.5 233.74 460 233.79 460.5 233.77 461 233.74 461.5 233.76 462 233.76 462.5 233.82 463 233.79 463.5 233.81 464 233.79 464.5 233.83 465 233.82 465.5 233.84 466 233.82 466.5 233.83 467 233.86 467.5 233.86 468 233.86 468.5 233.86 469 233.87 469.5 233.88 470 233.88 470 234.18 468 234.17 466 234.16 464 234.16 462 234.15 460 234.14 458 234.13 456 234.12 454 234.12 452 234.11 450 234.1 448 234.02 446 233.94 444 233.87 442 233.79 440 233.71 438 233.63 436 233.56 434 233.48 432 233.4 430 233.3 428 233.2 426 233.1 424 233 422 232.9 420 232.8 418 232.7 416 232.6 414 232.5 412 232.4 410 232.3 408 232.15 406 232.01 404 231.86 402 231.71 400 231.57 398 231.42 396 231.27 394 231.16 392 231.09 390 231.02 388 230.95 386 230.87 384 230.8 382 230.73 380 230.65 378 230.58 376 230.51 374 230.44 372 230.39 370 230.36 368 230.33 366 230.3 364 230.27 362 230.24 360 230.21 358 230.19 356 230.16 354 230.13 352 230.1 350 230.07 348 230.04 346 230.01 344 229.98 342 229.94 340 229.9 338 229.86 336 229.82 334 229.78 332 229.74 330 229.7 328 229.66 326 229.62 324 229.58 322 229.54 320 229.5 318 229.46 316 229.42 314 229.34 312 229.22 310 229.1 308 228.98 306 228.86 304 228.74 302 228.62 300 228.5 298 228.57 296 228.63 294 228.7 292 228.77 290 228.83 288 228.9 286 228.97 284 229.03 282 229.08 280 229.13 278 229.19 276 229.24 274 229.29 272 229.35 270 229.4 268 229.36 266 229.32 264 229.27 262 229.23 260 229.19 258 229.15 256 229.11 254 229.06 252 229.02 250 229.09 248 229.28 246 229.47 244 229.65 242 229.84 240 230.03 238 230.21 236 230.4 234 230.61 232 230.83 230 231.04 228 231.26 226 231.47 224 231.69 222 231.9 220 232.09 218 232.28 216 232.46 214 232.65 212 232.84 210 233.03 208 233.21 206 233.4 204 233.13 202 232.87 200 232.6 198 232.74 196 232.88 194 233.02 192 233.16 190 233.3 188 233.35 186 233.41 184 233.46 182 233.51 180 233.57 178 233.62 176 233.67 174 233.73 172 233.78 170 233.83 168 233.89 166 233.94 164 233.99 162 234.05 160 234.1 158 234.24 156 234.38 154 234.52 152 234.66 150 234.8 148 235 146 235.2 144 235.4 142 235.6 140 235.8 138 235.78 136 235.77 134 235.75 132 235.74 130 235.72 128 235.7 126 235.69 124 235.67 122 235.66 120 235.64 118 235.62 116 235.61 114 235.7 112 235.89 110 236.08 108 236.27 106 236.46 104 236.66Z"/>
<path d="M56.3 678.5 56.8 677.45 57.3 677.06 57.8 676.08 58.3 676.96 58.8 676.98 59.3 676.49 59.8 676.79 60.3 676.16 60.8 676.85 61.3 676.03 61.8 676.75 62.3 676.46 62.8 676.02 63.3 676.33 63.8 676 64.3 676.27 64.8 676.82 65.3 676.01 65.8 676.36 66.3 676.62 66.8 676.69 67.3 675.99 67.8 676.31 68.3 675.84 68.8 676.05 69.3 675.78 69.8 676.27 70.3 676.11 70.8 676.21 71.3 676.56 71.8 675.77 72.3 676.52 72.8 676.02 73.3 675.79 73.8 676.19 74.3 676.65 74.8 675.98 75.3 676.18 75.8 676.64 76.3 676.71 76.8 676.34 77.3 676.72 77.8 675.86 78.3 676.38 78.8 676.37 79.3 676.48 79.8 676.22 80.3 675.89 80.8 676.58 81.3 676.53 81.8 676.32 82.3 676.6 82.8 676.31 83.3 676.37 83.8 676.49 84.3 676.18 84.8 676.28 85.3 676.32 85.8 674.53 86.3 674.95 86.8 674.27 87.3 673.73 87.8 672.14 88.3 671.45 88.8 672.09 89.3 672.18 89.8 672.5 90.3 670.84 90.8 672.31 91.3 671.61 91.8 671.95 92.3 671.94 92.8 671.84 93.3 672.05 93.8 672.16 94.3 671.33 94.8 670.64 95.3 670.97 95.8 671.8 96.3 670.75 96.8 671.87 97.3 671.3 97.8 670.23 98.3 669.91 98.8 671.05 99.3 670.02 99.8 670.87 100.3 670.76 100.8 670.57 101.3 669.37 101.8 670.05 102.3 670.68 102.8 669.99 103.3 670.17 103.8 670.78 104.3 669.68 104.8 669.52 105.3 670.06 105.8 669.03 106.3 671 106.8 670.17 107.3 669.79 107.8 670.42 108.3 670.66 108.8 669.47 109.3 670.08 109.8 670.36 110.3 670.61 110.8 668.41 111.3 670.06 111.8 670.4 112.3 670.21 112.8 670.1 113.3 668.48 113.8 670.13 114.3 669.92 114.8 670.14 115.3 669.41 115.8 669.9 116.3 669.6 116.8 668.53 117.3 667.85 117.8 668.11 118.3 669.87 118.8 669.28 119.3 667.9 119.8 669.73 120.3 669.48 120.8 668.82 121.3 669.03 121.8 667.96 122.3 668.01 122.8 668.68 123.3 669.11 123.8 669.1 124.3 668.99 124.8 669.24 125.3 667.87 125.8 669.03 126.3 667.01 126.8 667.78 127.3 669.02 127.8 668.1 128.3 667.75 128.8 668.89 129.3 667.99 129.8 668.81 130.3 667.04 130.8 668.78 131.3 667.45 131.8 666.18 132.3 666.68 132.8 668.42 133.3 667.67 133.8 668.55 134.3 668.14 134.8 666.51 135.3 666.66 135.8 668.63 136.3 667.99 136.8 667.22 137.3 668.39 137.8 666.62 138.3 666.25 138.8 667.42 139.3 667.93 139.8 666.36 140.3 667.47 140.8 668.22 141.3 668 141.8 668.18 142.3 666.17 142.8 667.26 143.3 666.6 143.8 666.11 144.3 665.43 144.8 667.87 145.3 667.33 145.8 665.69 146.3 666.08 146.8 667.25 147.3 666.37 147.8 667.61 148.3 667.63 148.8 667.74 149.3 667.05 149.8 667.36 150.3 666.52 150.8 664.64 151.3 667.28 151.8 666.06 152.3 664.68 152.8 665.69 153.3 665.85 153.8 664.72 154.3 666.99 154.8 663.55 155.3 664.72 155.8 664.01 156.3 663.78 156.8 666.49 157.3 666.46 157.8 666.14 158.3 664.87 158.8 662.42 159.3 662.46 159.8 664.97 160.3 663.85 160.8 663.06 161.3 664.98 161.8 661.27 162.3 661.31 162.8 662.58 163.3 661.28 163.8 661.82 164.3 662.64 164.8 664.29 165.3 664.39 165.8 664.5 166.3 664.98 166.8 660.34 167.3 664.09 167.8 664.87 168.3 663.9 168.8 664.6 169.3 663.15 169.8 663.66 170.3 664.22 170.8 662.81 171.3 663.08 171.8 663.32 172.3 660.47 172.8 663.43 173.3 662.15 173.8 659.81 174.3 659.12 174.8 662.88 175.3 664.02 175.8 658.99 176.3 661.95 176.8 663.34 177.3 663.59 177.8 663.15 178.3 662.78 178.8 663.39 179.3 663.56 179.8 658.12 180.3 659.42 180.8 663.24 181.3 661.56 181.8 659.37 182.3 661.3 182.8 663.13 183.3 662.08 183.8 661.81 184.3 658.19 184.8 660.52 185.3 661.28 185.8 660.28 186.3 663.09 186.8 660.01 187.3 659.17 187.8 660.23 188.3 662.17 188.8 662.59 189.3 663.51 189.8 663.44 190.3 663.29 190.8 661.96 191.3 659.84 191.8 663.24 192.3 662.02 192.8 661.03 193.3 661.13 193.8 664.05 194.3 659.03 194.8 661.6 195.3 663.28 195.8 663.63 196.3 661.05 196.8 659.19 197.3 663.35 197.8 663.09 198.3 662.27 198.8 664.39 199.3 663.52 199.8 660.37 200.3 663.09 200.8 661.66 201.3 664.99 201.8 661.95 202.3 662.81 202.8 665.76 203.3 664.74 203.8 664.24 204.3 665.05 204.8 665.17 205.3 666.78 205.8 665.9 206.3 666.87 206.8 665.36 207.3 667.27 207.8 665.13 208.3 667.07 208.8 668.31 209.3 668.08 209.8 668.9 210.3 667.54 210.8 669.24 211.3 668.2 211.8 669.05 212.3 667.94 212.8 669.56 213.3 668.49 213.8 668.52 214.3 669.73 214.8 669.97 215.3 669.7 215.8 669.21 216.3 670.11 216.8 670.48 217.3 670.02 217.8 669.34 218.3 670.67 218.8 669.29 219.3 670.37 219.8 670.98 220.3 671.11 220.8 670.87 221.3 670.78 221.8 671.22 222.3 671.35 222.8 670.96 223.3 671.33 223.8 671.18 224.3 671.24 224.8 670.99 225.3 671.23 225.8 671.66 226.3 671.76 226.8 671.12 227.3 671.94 227.8 671.97 228.3 672.04 228.8 671.51 229.3 671.85 229.8 671.56 230.3 671.91 230.8 672.17 231.3 672.18 231.8 672.04 232.3 672.39 232.8 672.13 233.3 672.42 233.8 672.59 234.3 672.56 234.8 672.54 235.3 672.72 235.8 672.53 236.3 672.61 236.8 672.8 237.3 672.77 237.8 672.9 238.3 672.99 238.8 673.08 239.3 673.09 239.8 673.17 240 673.5 238 673.38 236 673.26 234 673.14 232 673.02 230 672.9 228 672.78 226 672.66 224 672.54 222 672.42 220 672.3 218 672 216 671.7 214 671.4 212 671.1 210 670.8 208 670.3 206 669.8 204 669.3 202 668.8 200 668.3 198 668.03 196 667.77 194 667.5 192 667.23 190 666.97 188 666.7 186 666.43 184 666.4 182 666.6 180 666.8 178 667 176 667.2 174 667.4 172 667.6 170 667.8 168 668 166 668.2 164 668.4 162 668.6 160 668.8 158 668.95 156 669.1 154 669.25 152 669.4 150 669.55 148 669.7 146 669.85 144 670 142 670.15 140 670.3 138 670.34 136 670.38 134 670.42 132 670.46 130 670.5 128 670.67 126 670.84 124 671.01 122 671.17 120 671.34 118 671.51 116 671.68 114 671.85 112 672.02 110 672.19 108 672.36 106 672.52 104 672.69 102 672.86 100 673.03 98 673.2 96 673.37 94 673.54 92 673.7 90 673.87 88 674.51 86 676.57 84 677.59 82 677.58 80 677.57 78 677.55 76 677.54 74 677.53 72 677.51 70 677.5 68 677.56 66 677.62 64 677.68 62 677.75 60 677.81 58 677.87Z"/>
<path d="M395.5 678.3 396 677.28 396.5 676.95 397 677.75 397.5 677.33 398 677.51 398.5 677.4 399 677.73 399.5 677.69 400 677.49 400.5 677.67 401 677.48 401.5 677.77 402 677.75 402.5 677.19 403 677.56 403.5 677.52 404 677.31 404.5 677.77 405 678.02 405.5 677.4 406 677.69 406.5 677.66 407 677.76 407.5 677.35 408 678.12 408.5 677.74 409 678.23 409.5 678.1 410 678.06 410.5 678.48 411 678.69 411.5 678.46 412 678.25 412.5 678.47 413 678.68 413.5 678.31 414 678.57 414.5 678.41 415 678.14 415.5 677.39 416 677.86 416.5 677.73 417 677.56 417.5 677.4 418 677.06 418.5 676.52 419 675.95 419.5 676.44 420 676.21 420.5 676.28 421 676.24 421.5 675.49 422 675.85 422.5 676.22 423 676.34 423.5 675.32 424 675.43 424.5 675.14 425 676.12 425.5 675.59 426 674.73 426.5 675.38 427 674.51 427.5 675.96 428 674.28 428.5 675.96 429 675.43 429.5 675.89 430 674.43 430.5 674.7 431 673.89 431.5 674.32 432 673.87 432.5 674.89 433 673.67 433.5 674.3 434 675.16 434.5 673.58 435 675.03 435.5 675.27 436 675.33 436.5 674.63 437 675.03 437.5 673.24 438 673.1 438.5 674.77 439 674.83 439.5 674 440 674.59 440.5 673.8 441 673 441.5 674.23 442 673.83 442.5 672.47 443 673.62 443.5 673.76 444 672.31 444.5 672.52 445 672.24 445.5 672.83 446 673.49 446.5 672.76 447 672.32 447.5 672.85 448 673.73 448.5 673.61 449 673.35 449.5 672.36 450 672.94 450.5 672.93 451 672.09 451.5 673.76 452 672.63 452.5 673.34 453 672.77 453.5 671.92 454 673.43 454.5 671.46 455 673.63 455.5 672.67 456 672.73 456.5 673.44 457 672.69 457.5 672.94 458 673 458.5 672.24 459 673.78 459.5 673.21 460 672.04 460.5 673.68 461 671.76 461.5 673.6 462 672.4 462.5 673.67 463 673.09 463.5 673.17 464 673.83 464.5 672.37 465 673.04 465.5 672.42 466 672.89 466.5 672.85 467 672.94 467.5 673.54 468 671.69 468.5 673.93 469 671.78 469.5 671.84 470 673.07 470.5 672.12 471 672.45 471.5 672.64 472 673.47 472.5 673.38 473 673.27 473.5 673.35 474 671.15 474.5 673.2 475 673.05 475.5 672.93 476 671.57 476.5 672.69 477 672.43 477.5 673.2 478 673.12 478.5 673.44 479 673.19 479.5 673.06 480 671.12 480.5 672.29 481 673.18 481.5 672.24 482 673.03 482.5 671.69 483 672.04 483.5 670.22 484 672.43 484.5 670 485 672.31 485.5 669.04 486 670.7 486.5 672.53 487 669.61 487.5 671.85 488 671.47 488.5 672.07 489 668.95 489.5 672.06 490 669.29 490.5 670.9 491 669.36 491.5 671.1 492 671.65 492.5 667.45 493 668.98 493.5 671.14 494 666.53 494.5 666.85 495 670.82 495.5 671.16 496 668.63 496.5 670.8 497 667.74 497.5 669.28 498 667.78 498.5 668.6 499 667.24 499.5 666.82 500 668.23 500.5 668.24 501 669.61 501.5 670.29 502 670.34 502.5 666.21 503 669.89 503.5 668.85 504 669.33 504.5 667.61 505 668.09 505.5 665.84 506 668.52 506.5 668.85 507 667.13 507.5 666.44 508 665.03 508.5 668.87 509 665.22 509.5 664.41 510 664.34 510.5 669.34 511 668.24 511.5 665.73 512 665.23 512.5 669.29 513 667.9 513.5 665.8 514 665.49 514.5 666.91 515 668.47 515.5 667.5 516 668.8 516.5 667.83 517 667.19 517.5 664.51 518 666.09 518.5 667.06 519 667.81 519.5 667.43 520 665.27 520.5 666.62 521 667.83 521.5 663.95 522 665.63 522.5 662.63 523 665.74 523.5 665.11 524 666.25 524.5 665.07 525 662.67 525.5 662.16 526 664.66 526.5 666.14 527 667.69 527.5 663.35 528 666.39 528.5 666.45 529 667.76 529.5 667.82 530 666.45 530.5 662.28 531 664.18 531.5 664.43 532 664.73 532.5 667.2 533 667.72 533.5 665.63 534 668.19 534.5 666.01 535 666.57 535.5 666.6 536 668.52 536.5 668.78 537 667.51 537.5 668.89 538 667.04 538.5 668.69 539 667.55 539.5 667.11 540 668.01 540.5 668.52 541 669.79 541.5 669.53 542 667.14 542.5 670.06 543 670.18 543.5 669.76 544 669.78 544.5 669.15 545 670.78 545.5 668.87 546 671.37 546.5 669.73 547 670.51 547.5 669.61 548 671.59 548.5 670.51 549 669.84 549.5 670.8 550 672 550.5 670.3 551 670.28 551.5 672.28 552 670.95 552.5 672.49 553 672.57 553.5 671.39 554 671.69 554.5 671.23 555 672.11 555.5 672.45 556 672.92 556.5 672.55 557 671.8 557.5 672.63 558 672.31 558.5 673.47 559 672.82 559.5 672.94 560 673.83 560.5 673.03 561 673.95 561.5 674.01 562 674.2 562.5 673.73 563 674.34 563.5 673.54 564 674.57 564.5 674.01 565 674.19 565.5 674.44 566 674.5 566.5 674.35 567 674.57 567.5 674.95 568 674.56 568.5 674.95 569 674.86 569.5 674.96 570 674.75 570.5 675.14 571 674.93 571.5 675.36 572 675.34 572.5 675.24 573 675.33 573.5 675.29 574 675.59 574.5 675.44 575 675.52 575.5 675.75 576 675.8 576.5 675.77 577 675.75 577.5 675.89 578 675.97 578.5 676.02 579 676.06 579.5 676.14 580 676.2 580 676.5 578 676.37 576 676.23 574 676.1 572 675.97 570 675.83 568 675.7 566 675.57 564 675.37 562 675.11 560 674.85 558 674.59 556 674.33 554 674.07 552 673.81 550 673.55 548 673.29 546 673.03 544 672.76 542 672.48 540 672.2 538 671.92 536 671.64 534 671.46 532 671.38 530 671.3 528 671.22 526 671.14 524 671.22 522 671.46 520 671.7 518 671.94 516 672.18 514 672.42 512 672.66 510 672.9 508 673.09 506 673.28 504 673.47 502 673.66 500 673.85 498 674.04 496 674.23 494 674.42 492 674.61 490 674.8 488 674.9 486 675 484 675.1 482 675.2 480 675.3 478 675.4 476 675.5 474 675.6 472 675.7 470 675.8 468 675.73 466 675.67 464 675.6 462 675.53 460 675.47 458 675.4 456 675.33 454 675.33 452 675.4 450 675.47 448 675.54 446 675.61 444 675.68 442 675.9 440 676.2 438 676.49 436 676.78 434 676.97 432 677.08 430 677.2 428 677.31 426 677.43 424 677.5 422 677.5 420 677.5 418 678.16 416 678.81 414 679.47 412 679.67 410 679.41 408 679.16 406 678.96 404 678.75 402 678.6 400 678.6 398 678.6 396 678.6Z"/>
</g>
<g fill="none" stroke="#1414ff" stroke-width="1" stroke-linejoin="miter" stroke-miterlimit="2">
<path d="M84.5 236.5 102 236.5 102.25 236.43 103 232.81 103.25 217.88 103.5 182.2 103.75 209.61 104 234.22 104.25 235.11 104.5 234.69 104.75 232.18 105 78 105.25 190.38 105.5 173.58 105.6 151.2 106.02 223.08 106.19 233.35 106.25 233.73 106.5 234.18 106.71 233.36 107 234.1 107.32 231.71 107.75 233.96 108 234.49 108.23 233.09 108.75 235.28 109 225.31 109.2 119.6 109.25 136.11 109.5 179.96 109.6 160 109.75 183.01 110 191.3 110.1 175.4 110.5 224.24 110.75 235.71 111 235.68 111.25 184.55 111.4 151.2 111.75 211 112 235.59 112.5 235.54 112.75 233.3 113.28 227.52 113.5 229.24 113.75 229.97 114.1 166.3 114.58 234.08 114.75 232.16 115.01 228.99 115.75 235.31 117.25 235.32 117.5 231.78 117.65 229 117.75 229.57 117.85 203.5 118 135.3 118.25 206.34 118.5 234.12 118.75 210.5 118.9 194.3 119.25 223.37 119.5 235.34 119.75 235.34 120 227.33 120.3 197.3 120.75 231.96 121 233.7 121.12 232.91 121.5 234.62 121.75 232.15 121.95 229.74 122.03 230.38 122.25 226.75 122.5 210.2 122.75 222.93 123 234.78 123.46 231.73 123.5 231.9 123.64 230.2 124 233.46 124.25 234.65 124.5 221.91 124.8 170.6 125.25 229.61 125.5 234.9 126.05 233.52 126.25 232.97 126.75 234.15 127 234.49 127.5 233.38 127.72 231.57 128 233.25 128.25 234.09 128.48 233.13 129 234.65 129.25 167.48 129.4 21.9 129.75 234.2 130 235.42 130.5 235.42 130.75 234.37 131.15 232.38 132 235.43 132.25 232.76 132.5 227.6 132.83 232.79 133 234.54 133.25 235.09 133.5 235.45 133.75 233.24 134 229 134.25 232.27 134.5 233.57 134.82 229.44 135 229.79 135.18 228.03 135.5 230.33 135.75 231.59 135.98 227.9 136.5 234.04 136.75 234.41 137 233.86 137.5 234.67 137.75 233.67 138.25 235.17 138.5 235.21 139 234.18 139.5 229.13 139.75 228.78 139.79 228.59 140.1 232.18 140.25 233.71 141 235.1 141.25 219.66 141.4 209.4 141.75 227.76 142 235.3 142.25 235.28 142.91 231.22 143 231.59 143.25 231.83 143.55 229.01 144 231.91 144.25 190.28 144.3 177.1 144.5 210.02 144.75 235.03 145.25 234.97 145.9 234.06 146 233.79 146.37 230.3 147 234.37 147.25 234.78 149 234.6 149.25 227.78 149.5 214.7 149.75 224.72 150 234.5 151 234.43 151.25 214.24 151.4 171 151.62 211.33 151.75 233.58 152 233.44 152.58 228.27 153 230.92 153.25 230.5 153.45 229.17 153.5 229.42 153.76 230.04 154.5 232.94 154.75 233.38 155.22 231.77 156 233.58 156.25 232.79 156.64 230.67 156.75 231.07 157 230.38 157.05 230.16 158 233.38 158.25 232.05 158.56 229.35 158.75 218.37 159 188.5 159.25 211.44 159.5 230.46 159.51 230.41 160 232.57 160.25 233.62 160.5 232.3 160.83 230.21 161.02 229.47 161.25 230.7 161.5 230.19 161.7 227.52 162 230.39 162.25 232.53 162.64 231.22 162.75 231.26 162.92 229.67 163 230.18 163.25 229.02 163.32 228.51 164.25 233 164.5 232.72 164.84 231.5 165.25 232.52 165.5 233.09 165.75 233.42 166 231.47 166.41 228.05 167.25 233.03 167.5 228.15 167.8 207.7 168.25 231.27 168.5 232.13 168.55 231.94 168.75 232.49 168.98 231.94 169 232 169.25 230.51 169.36 225.73 169.6 212 170 229.43 170.06 230.17 170.5 232.34 170.75 233.51 171 233.33 171.53 232.61 171.75 232.68 172 230.06 172.17 228.07 172.28 228.98 172.5 219.12 172.6 214 173 229.75 173.25 231.98 173.5 230.6 173.88 226.84 174.5 231.29 174.75 231.77 175.04 230.39 175.5 231.97 175.75 232.08 176.04 231.15 176.25 207.51 176.4 152.1 176.75 232.72 177 233.27 177.74 232.36 178.25 232.81 178.5 232.52 178.65 232.23 178.75 232.36 179 231.31 179.35 227.15 179.5 228.39 179.75 229.1 179.95 227.41 180.75 232.1 181 233.24 181.25 233.23 181.5 232.7 181.75 231.41 182 229.17 182.3 214 182.5 221.77 182.75 230.35 182.91 228.73 183.5 232.91 183.75 233.17 184 231.15 184.56 226.34 185 229.06 185.11 228.06 185.75 232.76 186 233.11 186.25 233.1 186.5 231.08 186.83 227.45 187.25 230.8 187.5 232.39 187.75 231.67 187.93 230.27 188.25 232 188.5 232.92 188.75 232.48 189.25 231.11 189.5 231.59 189.75 221.51 189.9 214 190.25 227.44 190.28 227.48 191 231.73 191.25 227.82 191.5 218 191.75 225.52 192 231.34 192.36 230.01 192.42 230.03 192.67 228.26 192.75 228.67 193 229.06 193.2 227.25 193.75 230.84 194 231.7 194.25 232.21 194.5 232.46 195.11 231.3 196 232.4 196.25 232.56 196.5 232.55 196.75 159.56 196.8 138.1 197 191.74 197.25 231.11 197.58 229.44 197.75 229.38 198.25 231.28 198.4 231.55 198.5 231.49 198.92 230.11 199.25 230.66 199.56 229.2 200 230.96 200.25 231.76 200.5 232.37 201 232.43 201.25 227.68 201.5 218.5 201.75 225.62 202 228.13 202.26 230.68 202.5 231.89 202.75 232.28 203 231.73 203.47 226.72 204 230.81 204.25 232.32 204.5 232.72 204.75 232.93 205 232.81 205.5 232.07 205.62 231.76 206 232.47 206.25 231.94 206.44 231.21 206.75 231.97 207 231.52 207.23 230.05 207.39 229.9 207.5 230.34 207.75 230.67 207.85 230.94 208 229.88 208.3 218.5 208.57 226.45 208.75 230.3 209 230.28 209.25 227.15 209.5 229.34 209.75 230.73 210.21 227.47 210.25 227.64 210.49 227.33 210.66 225.68 211 227.9 211.25 229.03 211.37 227.54 211.5 228.68 211.74 228.36 211.9 228.37 212.75 231.63 213 232.44 213.75 232.37 214 231.97 214.25 155.42 214.3 132.8 214.5 189.33 214.75 231.74 215 231.03 215.38 229.33 215.56 228.99 215.75 229.73 216 228.87 216.32 226.63 217.25 231.14 217.5 232.02 217.75 232 218 231.48 218.19 230.97 218.5 231.52 218.75 229.55 219 225 219.25 228.46 219.5 231.83 219.75 231.45 220.35 229.12 220.5 229.52 220.63 229.07 220.75 229.44 221 228.47 221.03 228.12 221.25 229.65 221.5 231.19 221.9 226.07 222 227.01 222.25 227.62 222.5 225.6 223 228.55 223.25 226.82 223.37 225.77 223.5 226.61 223.75 227.92 224 228.99 224.25 223.59 224.4 218.5 224.75 227.56 225 231.28 226 231.17 226.25 230.22 226.63 225.91 227.25 230.75 227.5 231.01 227.75 230.4 228.36 226.24 229 229.21 229.25 229.5 229.57 228.5 229.75 153.83 229.8 131.2 230 187.75 230.25 229.91 230.5 229.99 231.08 226.35 231.25 225.04 231.4 221.4 231.75 227.88 232 228.63 232.12 228.22 232.5 229.11 232.75 229.24 232.88 229 233.25 229.46 233.5 228.91 233.66 228.43 233.75 228.61 234 228.75 234.26 227.2 235 230.21 238.5 229.87 238.75 228.68 239.1 215.1 239.5 226.97 239.75 229.75 240 229.73 240.25 219.6 240.4 213 240.75 224.86 241 226.79 241.25 227.81 241.5 228 241.78 222.76 242 225.75 242.25 226.96 242.46 224.86 243 228.66 243.16 228.44 243.25 228.57 243.5 120.1 243.75 197.7 244 229.35 244.25 229.33 244.5 228.03 244.85 226.07 245.5 228.59 245.75 229.19 246.25 229.14 246.5 229.08 247.29 225.71 247.75 227.05 248.01 223.75 248.25 226.02 248.5 226.25 248.66 224.11 249 227.2 249.25 228.86 250 228.79 250.25 227.96 250.56 224.37 250.74 222.26 251 224.46 251.25 225.33 251.28 225.16 251.75 224.26 251.76 224.33 251.88 221.41 252.1 211.9 252.5 225.53 252.75 228.74 253 228.74 253.25 227.35 253.51 224.04 254 228.46 254.25 228.77 256.25 228.81 256.5 169.46 256.6 120 256.75 166.37 257 225.75 257.25 228.77 257.75 228.84 258 228.16 258.4 226.42 259 228.27 259.25 228.87 260.25 228.89 260.5 228.65 260.75 228.03 260.99 227.02 261.3 218.5 261.75 228 262 228.93 262.25 228.94 262.5 228.19 262.97 224.45 263.75 228.96 264 228.97 264.25 217.39 264.5 195.1 264.75 212.25 265 228.99 265.25 227.71 265.72 223.72 266.25 226.95 266.5 227.33 266.89 224.08 267.5 227.77 267.75 229.05 268.5 229.07 268.75 193.54 268.9 117.4 269.25 228.45 269.5 229.09 270.5 229.09 270.75 226.93 271.21 222.53 272 227.95 272.25 227.1 272.5 225.31 272.72 224.83 273 226.19 273.25 225.83 273.36 225.21 274 227.7 274.25 228.48 274.5 228.82 274.75 228.97 275 227.57 275.28 223.11 275.5 225.6 275.75 228.24 276 220.54 276.2 211.2 276.5 221.96 276.65 225.14 277.11 227.55 277.5 228.29 277.75 227.22 278 224.66 278.09 223.4 278.25 224.07 278.75 227.02 279 228.07 279.44 223.62 279.75 225.86 280 224.66 280.2 221.2 280.4 123.9 280.5 153.7 280.75 224.2 280.76 224.12 281.75 228.42 282 228.78 282.25 228.77 282.65 227.82 282.75 227.99 283.24 225.97 283.25 226 283.5 223.84 283.67 224.71 283.75 225.32 283.93 224.21 284.75 228.2 285.09 226.62 285.25 227.21 285.5 227.4 285.97 225.33 287 228.51 287.25 227.53 287.6 214.8 287.75 218.99 287.98 222.43 288.5 226.61 288.75 228.21 289 226.46 289.5 222.18 290.03 225.35 290.19 225.23 290.25 225.44 290.5 225.23 290.74 223.04 291.25 225.39 291.5 225.91 291.68 184.8 291.8 129.4 292 185.68 292.25 225.73 292.43 223.27 292.5 223.95 292.75 225.69 293 223.39 293.12 224.09 293.75 226.83 294 225.3 294.1 224.47 294.27 223.54 294.75 226.34 295 227.51 295.31 226.13 296 228.3 297 228.3 297.25 227.94 297.77 224.17 298 218.86 298.1 215.5 298.32 221.28 298.5 224.61 299.25 228.18 299.75 228.21 300 226.97 300.44 224.41 301.25 227.85 301.5 227.35 301.75 154.66 301.8 133 302.04 198.27 302.25 225.41 302.5 226.33 302.75 224.39 302.9 221.8 303.25 226.48 303.5 226.44 303.87 223.74 304.25 225.75 304.5 225.4 305 226.99 305.5 228.45 305.75 226.67 306.07 223.63 306.25 224.85 306.5 223.96 306.51 223.81 306.82 226.62 307 228.11 307.5 228.49 307.75 225.01 308 218 308.25 223.42 308.5 226.55 308.61 226.38 309 227.29 309.25 225.75 309.5 220 309.84 226.07 310 227.05 310.15 226.59 310.7 227.82 311.25 228.39 311.5 177.73 311.6 135.1 311.75 175.08 312 228.92 312.25 228.71 312.75 227.67 313.5 228.89 313.75 229.03 314.5 229.07 314.75 228.74 315.41 224.48 315.75 226.08 315.81 226.23 316.08 224.2 316.5 226.49 316.69 225.51 317 226.69 317.25 227.38 317.5 224 317.79 227.07 318 227.82 318.4 226.48 318.66 227.02 318.75 227.33 319.25 228.55 319.5 228.96 319.88 228.7 320 228.76 320.25 224.24 320.4 221 320.75 226.82 321 220.75 321.2 136 321.5 215.46 321.7 226.09 322 227.78 322.25 227.41 322.5 227.83 322.75 227.19 322.99 225.25 323.5 228.28 323.75 228.79 324 228.27 324.28 226.15 324.36 225.47 324.75 227.85 325.02 227.19 325.5 228.93 325.75 229.31 326 229.32 326.5 228.14 326.57 228.16 326.75 227.68 327 224.5 327.25 226.95 327.5 228.22 327.71 227.84 328.25 228.9 328.5 229.31 329.75 229.39 330 221.18 330.2 139 330.5 216.05 330.55 225.57 330.75 224.78 330.79 224.48 331.25 226.75 331.5 227.64 331.75 227.97 331.97 227.38 332.3 224.84 333 228.65 333.25 228.42 333.38 228.2 334 228.99 334.25 227.47 334.4 226.4 334.5 226.91 334.75 226.11 334.83 225.61 335.5 228.65 335.8 225.5 336.25 229.17 336.5 229.53 336.75 228.96 337.13 227.89 337.25 228.14 337.5 228.49 338 226.13 338.5 227.85 338.75 201.07 338.9 140 339.25 229.08 339.5 229.59 341 229.62 341.25 228.88 341.76 226.05 342.54 229.14 342.75 227.88 342.89 226.9 343 227.43 343.25 227.75 343.29 227.64 344 229.11 344.25 228.42 344.5 226 344.75 227.18 345.25 229.35 345.5 228.67 345.95 225.39 346.5 228.23 346.75 229.23 347 180.78 347.1 140 347.36 205.52 347.5 225.69 348 228.71 348.25 227.24 348.4 225.88 349 229.64 349.25 229.76 350.25 229.77 350.5 229.06 350.82 227.15 351.25 229 351.5 229.17 351.89 228.54 352 228.67 352.3 226 352.75 229.47 353 229.81 354.5 229.84 354.75 229.64 355 222 355.2 143.6 355.5 217.11 355.75 227.95 356.2 225.5 357.25 229.63 357.62 227.39 358 229.08 358.25 229.89 358.5 229.62 358.75 229.25 359.3 227.56 359.5 227.82 359.75 226.51 359.9 224.3 360.25 228.28 360.5 229.85 361.25 229.93 361.5 229.03 361.83 227.14 362.25 228.86 362.5 221.88 362.7 141.2 363 216.85 363.25 228.89 363.5 226.29 363.75 228.09 364 228.17 364.1 227.65 364.5 229.21 364.71 228.95 364.75 229 365 227.61 365.05 227.27 365.5 229.68 366 229.31 366.25 229.48 366.5 228.97 366.74 228.17 367 228.82 367.25 225.95 367.4 223.3 367.55 225.34 367.75 227.66 368.25 229.21 368.71 228.12 369.5 229.49 369.75 229.64 370 146 370.25 205.7 370.5 227.51 370.75 227.86 371 228.41 371.25 228.26 371.32 227.97 372 229.84 372.25 230.09 372.75 230.1 373 229.79 373.28 228.88 373.5 229.4 373.75 229.68 374.36 225.85 374.5 223.9 374.75 227.07 375 227.62 375.12 226.83 375.5 228.72 375.75 229.8 375.87 229.64 376 229.27 376.4 227.21 377 229.42 377.25 163.76 377.3 144.2 377.5 193.1 377.75 230.18 378 230.28 378.75 230.31 379 230.11 379.69 227.5 379.75 227.67 380 227.84 380.14 226.68 380.5 228.78 380.75 229.71 381 228.95 381.25 227.89 381.37 226.34 381.5 224.3 381.75 227.4 382 225.98 382.01 225.78 382.25 226.48 382.3 226.17 382.76 228.14 383 228.67 383.07 228.49 384 230.23 384.25 209.79 384.4 165.4 384.75 230.16 385 230.54 385.75 230.56 386.52 226.14 386.7 226.71 387 228.2 387.25 229.26 387.5 230.06 388.25 230.64 388.5 230.66 388.75 229.52 389 227.3 389.5 230.7 389.75 230.6 390.38 230.01 391.25 230.66 391.5 230.77 391.75 214.88 391.9 180.8 392.25 230.52 392.5 230.81 394.75 230.89 395.75 230.78 396 230.28 396.3 227.7 396.5 229.05 396.75 228.4 396.8 228 397.25 230.79 397.5 231.04 398.75 231.18 399.46 230.35 400.25 231.12 400.5 199 400.75 221.96 401 230.65 401.45 230.02 402.5 231.21 402.75 231.47 403 231.45 404.1 230.79 404.5 231.01 404.88 230.85 405.5 231.18 405.75 230.8 406 229.1 406.36 231.03 406.5 231.62 407.5 231.82 409.5 231.96 409.75 224.51 409.9 208.5 410.25 231.69 410.72 231.25 411.75 232.03 412.5 232.08 413.25 231.68 413.75 231.44 413.95 231.14 414.25 231.5 414.51 231.27 415 231.72 416 232.26 416.5 232.32 416.9 230.5 417.25 231.82 417.5 232.38 418 232.4 418.25 232.33 418.84 230.97 419.25 231.68 419.5 231.93 419.87 231.55 420.25 231.86 420.5 231.07 421.3 219.5 422.5 231.62 422.75 232.64 423.5 232.67 424.29 232.22 425 232.56 425.64 232.04 426.5 232.62 426.75 232.54 427.43 231.86 428 232.32 428.6 231.78 429.25 232.31 429.5 232.22 429.83 231.61 430.75 232.92 431 233.05 431.75 233.05 432.8 232.73 433 232.79 433.25 232.64 434.1 224 435.25 232.17 435.5 232.33 436.25 233.08 437.75 233.31 438.5 233.35 439.75 232.79 440.75 233.19 441.25 233.08 441.71 232.43 442.5 233.36 442.75 233.52 444.5 233.59 444.75 233.56 445.68 233.02 447 233.66 447.5 233.7 448.29 233.58 449.25 233.76 449.5 232.67 450.2 228.8 451.25 232.84 451.5 233.74 451.75 233.77 452.32 233.64 453 233.76 453.25 233.7 454.28 232.7 454.5 232.85 454.79 232.39 455.25 233.13 455.5 233.16 455.91 232.85 457.5 233.71 457.75 233.81 465.5 233.86 466.67 232.89 467.57 233.43 468 233.54 468.25 233.49 469 231.6 470.2 233.71 471.75 233.89 475.5 233.9 476.86 233.61 478.25 233.85 479 233.77 479.75 233.84 480 233.78 480.53 233.45 481.5 233.89 483.75 233.93 484.75 233.84 486 233.94 490.5 233.96 491.4 232.6 492.5 233.76 492.75 233.97 500 234 501.35 233.63 503 234.01 505.25 234.02 506.09 233.9 506.75 233.98 507.75 233.42 509 233.93 509.75 234.04 516.75 234.08 518 233.95 518.25 233.73 518.4 233.5 518.75 233.92 519 234.04 521.5 234.11 521.75 234.02 522.28 233.51 523 234.02 523.57 233.97 524.5 234.12 529.5 234.15 530.75 234.04 532.25 234.16 538 234.19 538.25 234.18 538.91 233.93 539.75 234.16 541.75 234.21 543 234.13 544.75 234.22 546.75 234.2 547 234.18 547.75 233.83 548.75 234.15 549.38 233.69 550.25 234.15 550.75 234.15 551 234 551.5 234.25 552.25 234.23 553.45 233.77 554.25 233.99 554.63 233.9 555 233.98 555.5 233.91 557 234.28 565 234.32 565.79 233.77 566.75 234.27 568.25 234.34 571.25 234.35 572.12 234.13 572.5 234.21 573 234.14 573.3 234 573.75 234.16 574.25 234.09 575.75 234.38 576.25 234.38 576.86 233.99 577.75 234.39 578.51 234.25 579.5 234.4 582.25 234.41 583.18 234.21 584.25 234.41 590.75 234.45 591.56 234.18 592.5 234.42 594.25 234.47 595.25 234.43 597.5 234.49 598.42 233.84 599.5 234.43 600 234.5 600.25 234.44 601.28 233.87 602.75 234.46 603.5 234.52 604.58 234.2 605.5 234.45 608.25 234.55 612 234.57 613.42 234.43 614.25 234.51 614.78 234.45 616.5 234.59 618.5 234.61 619.25 234.56 620.75 234.62 621.75 234.47 622.75 234.63 623 234.64 624.01 234.29 625.25 234.62 626 234.65 627.27 234.38 629 234.67 638 234.73 638.84 234.61 640 234.74 645 234.77 646.08 234.66 647.75 234.78 648.75 234.79 650.04 234.41 651.75 234.79 654.75 234.83 657.25 234.84 658.09 234.57 658.5 234.66 659.25 234.42 660.25 234.75 660.77 234.62 661.75 234.87 669.25 234.91 670 234.7 671 234.92 676 234.95 676.69 234.4 677.25 234.75 677.75 234.74 678.5 234.85 678.75 234.86 679.33 234.56 680.25 234.92 682.5 234.99 683.52 234.88 684 234.93" stroke-width="0.95"/>
<path d="M48.6 678.5 55.85 678.5 56.1 675.64 56.35 672.11 56.46 669.93 56.8 598.4 57.1 646.39 57.35 566.96 57.4 550.2 57.85 666.23 58.1 621.5 58.3 559.2 58.6 631.07 58.85 669.79 59.2 579.3 59.6 658.83 59.68 666.06 59.8 663.77 59.88 665 60.1 664.47 60.3 534.1 60.6 656.31 60.85 676.59 61 675.97 61.1 676.26 61.35 673.25 61.7 624 62.1 667.27 62.21 673.13 62.35 674.05 62.6 672.1 62.88 668.47 63.1 670.53 63.35 633.1 63.5 604.2 63.85 656.05 64.1 666.88 64.4 627.5 64.85 672.92 65.1 677.35 65.35 673.01 65.55 669.4 65.6 670.03 65.85 669.31 65.87 668.97 66.1 671.34 66.35 573.37 66.4 542.8 66.6 619.22 66.85 672.44 67.01 674.76 67.1 675.08 67.36 667.56 67.6 672.33 67.85 675.03 67.96 674.25 68.1 674.92 68.35 636.7 68.6 558.7 68.85 619.4 69.1 675.27 69.35 676.37 69.6 677.21 70.35 677.2 70.6 675.06 70.9 667 71.1 669.23 71.26 664.71 71.42 667.8 71.6 669.77 71.72 670.27 71.74 669.96 72.6 676.36 72.85 677.22 74.1 677.23 74.35 674.45 74.7 642 75.1 670.53 75.35 660.75 75.5 650 75.85 669.3 76.1 676.16 76.66 667.25 77.1 672.17 77.35 674.87 77.39 674.65 77.6 674.55 77.86 669.89 78.35 676.3 78.6 590.12 78.7 517.5 78.85 585.58 79.1 677.26 79.35 677.26 79.6 676.79 79.95 665.34 80.1 668.43 80.2 665.73 80.6 673.82 80.85 677.27 81.6 677.28 81.85 675.54 82.1 673.05 82.25 665.23 82.5 643.1 82.85 667.32 83.1 672.4 83.12 672.04 83.35 667.67 83.44 665.51 83.85 672.95 84.1 671.27 84.22 669.96 84.6 672.94 84.85 669.49 85.2 578.2 85.6 657.86 85.85 654.4 86.1 611.8 86.35 644.12 86.56 666.18 86.85 669.99 87.19 662.99 87.6 668.31 87.81 670.69 88.1 672.12 88.35 672.72 88.46 672.3 89.1 673.49 89.35 670.3 89.76 661.62 89.85 662.94 90.1 653.45 90.3 452.3 90.6 640.84 90.85 670.22 91.1 667.3 91.35 664.63 91.58 657.55 91.85 663.69 92.01 665.56 92.1 667.07 92.35 665.7 92.43 663.8 92.85 670.58 93.1 669.94 93.44 663.83 93.6 664.24 93.7 661 93.85 664.65 94.04 657.34 94.44 668.57 94.6 670.02 94.85 672.05 95.1 673.02 95.35 672.92 95.84 667.49 95.94 668.06 96.35 671.08 96.6 672.62 96.85 665.61 97.1 651.4 97.35 662.3 97.6 672.93 97.85 666.65 98.04 660.01 98.1 661.51 98.35 664.95 98.47 661.83 98.6 664.29 98.85 667.64 99.09 664.08 99.35 666.8 99.54 663.66 99.85 668.64 100.1 418.3 100.35 598.98 100.52 665.85 100.69 660.55 101.1 669.78 101.35 672.62 101.6 672.6 101.85 671.67 102.22 665.17 102.35 666.85 102.6 660.35 102.7 656 102.85 661 103.1 667.48 103.36 657.69 103.6 663.98 103.85 663.75 103.96 660.78 104.35 668.41 104.49 669.77 104.6 669.91 104.76 668.44 104.85 669.04 105.1 662.93 105.3 652.5 105.35 654.5 105.6 664 105.84 655.19 106.1 662.21 106.35 667.19 106.6 670.13 106.82 668.58 107.35 671.09 107.6 671.53 107.85 580.25 108 383.5 108.33 656.45 108.35 663.7 108.54 658.27 108.85 664.54 108.93 665.93 109.35 669.55 109.6 668.87 109.83 666.23 109.85 666.42 110.1 665.27 110.18 663.78 110.35 666.16 110.47 662.58 110.66 656.23 111.1 667.25 111.35 668.49 111.73 662.41 112.1 666.57 112.35 660.38 112.5 653 112.6 656.77 112.85 661.54 112.89 660.8 113.17 664.78 113.35 664.9 113.7 654.71 114.1 662.77 114.35 661.38 114.47 655.16 114.6 656.25 114.61 655.86 114.85 661.86 115.1 643.05 115.3 359 115.6 625.26 115.85 669.6 116.1 671.37 116.85 671.31 117.1 670.26 117.63 660.11 118.1 666.56 118.35 663.37 118.39 662.33 118.53 665.32 118.6 666.38 119.1 669.98 119.35 664.26 119.5 660.15 119.6 661.19 119.77 657.31 120.35 666.84 120.56 661.6 120.8 646 120.85 648.52 121.1 659.71 121.27 654.48 121.35 570.51 121.5 355.3 121.6 444.96 121.85 667.55 122.1 664.4 122.17 662.82 122.35 665.75 122.61 663.51 123.1 668.87 123.35 670.26 123.6 670.74 125.6 670.57 125.85 669.95 126.22 667.27 126.35 667.94 126.56 663 126.8 650 126.85 652.07 126.93 654.46 127.15 661.04 127.35 577.16 127.5 377.3 127.6 460.56 127.85 667.51 128.1 669.06 128.17 668.74 128.6 670.02 129.09 652.62 129.6 665.29 129.85 670.21 130.22 667.86 130.35 668.45 130.6 665.2 130.78 662.03 130.85 662.81 131.1 645.18 131.3 617.4 131.6 649.44 131.85 670.16 132.1 670.16 132.35 669.19 132.6 666.48 132.93 660.23 133.08 662.28 133.1 642.13 133.3 362 133.6 624.61 133.85 664.5 134.18 655.56 134.35 656.28 134.45 653.19 135.1 666.85 135.35 669.66 135.6 669.51 135.85 667.36 135.98 661.63 136.2 650 136.35 656.09 136.49 654.23 136.6 657.19 136.63 656.37 137.35 668.58 137.6 670.05 137.85 666.1 138.1 643.06 138.3 373.3 138.6 626.19 138.69 658.22 138.85 661.83 139.1 655.49 139.11 654.98 139.35 662.67 139.6 668.16 139.65 668 140.1 669.17 140.35 667.66 140.66 661.64 140.96 665.7 141.1 665.52 141.4 649 141.6 657.44 141.85 667.36 142.1 669.49 142.35 667.22 142.63 663.36 143.1 668.03 143.35 578.93 143.5 384.3 143.68 532.68 143.85 660.88 144.1 658.01 144.22 652 144.35 656.33 144.51 657.64 144.6 659.02 144.85 659.96 144.93 658.2 145.6 669.06 145.85 665.4 146.06 661.11 146.1 660.85 146.27 652.34 146.35 655.22 146.5 652 146.85 664.38 147.1 667.88 147.21 667.5 147.85 669.1 148.1 644.95 148.3 400.5 148.6 629.63 148.85 663.44 149.05 659.74 149.6 666.84 149.85 669.26 150.1 668.33 150.46 665.4 150.65 666.39 150.85 666.66 150.98 664.53 151.1 665.34 151.2 663.75 151.35 664.13 151.48 661.78 151.85 666.5 152.1 669.09 152.35 669.07 152.6 668.83 152.85 657.48 152.94 602.35 153.1 402.3 153.35 591.71 153.6 664.99 153.85 663.47 154 654.76 154.04 652.08 154.11 654.94 154.35 656.06 154.49 650.96 154.6 653.94 154.68 652.61 154.7 652.05 155.06 660.43 155.1 661.04 155.36 653.69 155.6 658.65 155.85 662.97 156.1 658.16 156.35 661.68 156.6 661.52 156.72 658.72 156.85 660.91 156.9 659.8 157.1 646 157.3 418.8 157.6 631.76 157.85 668.66 158.1 665.3 158.37 658.47 158.6 662.54 158.85 666.88 159.1 668.57 159.35 663.78 159.66 652.91 160.07 663.17 160.1 662.9 160.38 652.18 160.6 657.96 160.78 660.76 161.1 666.7 161.35 589.44 161.5 420.3 161.6 490.76 161.85 664.18 162.05 660.47 162.19 654.07 162.6 666.56 162.85 665.13 163.21 653.48 163.6 662.61 163.85 667.35 164.1 665.2 164.35 667.11 164.6 667.21 164.85 661.13 165.13 652.16 165.35 593.84 165.5 435 165.6 501.17 165.85 661.2 166.1 665.47 166.3 659.59 166.35 658.37 166.6 657.44 166.65 656.41 166.84 650.25 167.1 659.09 167.35 665.86 167.83 652.09 168.35 662.54 168.6 664.15 168.81 663.64 169.19 653.27 169.35 592.46 169.5 431.5 169.81 636.67 169.85 662.07 170.1 660.35 170.26 654.09 170.35 656.56 170.38 656.38 170.6 662.99 170.85 665.72 171.07 661.06 171.19 656.6 171.35 660.58 171.57 649.67 171.77 659.99 171.85 663.43 172.02 665.02 172.35 666.84 172.6 662.23 172.85 594.92 173 440 173.1 504.54 173.35 655.12 173.49 649.6 173.92 661.34 174.1 665.14 174.18 664.73 174.6 666.96 174.85 667.01 175.1 663.48 175.35 655.36 175.6 661.2 175.79 661.33 175.85 661.09 175.87 660.63 176.1 660.38 176.31 635.04 176.5 441 176.6 505.15 176.85 664.81 177.1 665.22 177.51 649.24 178.1 665.42 178.35 666.66 178.6 665.72 178.91 664.35 179.35 665.69 179.6 666.19 179.85 598.04 180 451.3 180.1 512.43 180.35 660.18 180.36 660.05 180.6 659.9 180.65 658.92 180.85 660.17 180.98 658.18 181.35 662.25 181.47 661.34 181.56 659.94 181.85 663.15 181.99 659.43 182.06 657.45 182.1 658.26 182.33 651.48 182.42 653.82 182.6 655.3 182.75 648.65 182.85 651.76 183.1 645.95 183.3 443.5 183.6 633.25 183.85 664.36 184.13 653.59 184.35 659.55 184.55 658.26 184.6 658.97 184.85 660.37 184.88 659.99 185.27 663.82 185.35 663.25 185.68 651.69 186.1 662.23 186.35 608.3 186.5 484.3 186.75 612.49 186.85 661.24 187.35 665.6 187.6 665.51 187.9 663.96 188.1 663.87 188.24 662.67 188.35 663.43 188.6 663.58 188.62 663.39 188.85 664.98 189.1 666.42 189.35 662.36 189.68 654.39 189.85 657.3 190.1 659.07 190.16 657.71 190.19 656.23 190.4 513.2 190.66 628.81 190.83 653.27 191.19 662.21 191.3 660.39 191.6 665.31 191.85 666.91 192.1 664.21 192.36 660.25 192.6 662.95 192.85 665 192.92 664.7 193.1 665.29 193.35 663.53 193.56 660.19 193.85 663.42 194.1 657.28 194.3 558 194.6 651.14 194.77 652.3 194.85 654.52 195.08 656.99 195.11 655.67 195.35 659.54 195.41 658.48 195.6 660.89 195.73 662.11 195.88 659.66 196.35 665 196.6 667.55 196.85 667.02 197.1 660.23 197.27 653.74 197.6 662.56 197.85 662.74 198.08 655.15 198.1 655.68 198.35 603.81 198.4 585 198.68 649.71 198.84 663.87 199.35 667.03 199.6 667.95 199.85 667.8 200.1 662.42 200.36 655.54 200.6 660.1 200.85 660.06 201.1 665.2 201.35 666.67 201.49 665.91 201.85 667.51 202.1 668.52 202.35 666.81 202.55 665 202.6 665.32 202.85 661.44 202.93 659.36 203.11 653.63 203.17 655.11 203.35 626.53 203.4 614.1 203.64 651.02 203.85 662.69 204.1 666.7 204.29 660.18 204.35 661.78 204.57 657.54 204.9 664.42 205.1 667.64 205.41 664.51 205.6 659.68 205.72 656.48 205.84 656.24 206.03 658.61 206.1 660.19 206.31 658.73 206.43 654.5 206.6 658.67 206.75 661.85 206.81 660.32 206.96 662.8 207.1 662.96 207.36 652.74 207.49 656.35 207.57 654.68 207.76 659.22 207.85 658.24 207.95 653.05 208.1 658.61 208.35 666.16 208.44 666.16 208.85 668.6 208.95 668.91 209.3 666.83 209.39 667.2 209.6 666.9 209.8 632 210.1 664.83 210.19 666.89 210.6 669.69 210.85 670.63 211.1 670.66 211.35 670.19 211.83 664.21 211.85 664.41 212.1 665.42 212.15 664.74 212.6 668.91 212.85 669.18 213.11 663.48 213.35 667.37 213.6 670.74 214 664.18 214.41 669 214.6 668.64 214.86 666.52 215.35 669.46 215.54 670.35 216.1 671.11 216.35 670.48 216.83 665.61 216.85 665.79 217.1 658.59 217.2 647.8 217.35 657.96 217.6 670.07 217.85 666.89 217.97 663.82 218.1 666.29 218.35 668.23 218.57 668.55 218.85 670.21 219.1 671.35 219.25 671.06 219.6 671.62 219.91 669.13 220.1 667.87 220.29 664.83 220.6 668.29 220.85 670.74 221.11 669.72 221.35 668.93 221.58 666.15 222.1 670.71 222.35 670.89 222.63 669.75 223.35 671.94 223.6 672.22 224.6 672.28 224.85 672.02 225.4 665.47 225.6 667.19 225.68 665.16 225.8 657 226.1 670.1 226.35 672.02 226.78 668.51 227.1 670.46 227.25 670.83 227.36 670.44 227.6 671.11 227.91 669.93 228.1 670.61 228.35 668.88 228.46 668.07 228.85 670.29 229.1 669.68 229.6 671.83 229.85 671.25 230.1 669.43 230.35 670.78 230.61 671.24 230.91 669.49 231.6 672.34 231.85 672.71 235.35 672.92 235.6 670.72 236.3 663 237.6 673.06 240.1 673.2 240.85 673.22 241.89 672.55 242.35 672.79 242.85 672.47 243.1 672.61 243.35 672.56 243.6 672.39 245.1 673.27 246.1 673.32 247.2 673.17 247.6 673.22 247.85 672.16 248.6 666.2 249.85 673.11 250.1 673.12 250.57 672.45 250.85 672.75 251.27 672.52 252.6 673.28 253.1 673.44 256.6 673.52 257.86 673.35 258.1 673.2 258.75 672.38 259.85 673.42 260.1 673.59 260.6 673.6 261.94 673.26 262.85 673.47 263.1 672.65 263.8 669.2 264.85 672.82 265.1 673.24 265.35 673.15 266.35 673.71 267.1 673.71 267.88 673.6 268.1 673.63 268.35 673.4 268.75 672.83 269.6 673.73 271.85 673.79 272.88 673.08 274.1 673.79 274.73 673.21 274.85 673.16 275.1 672.86 276.1 673.86 277.35 673.92 278.35 673.55 279.35 673.84 280.1 673.97 280.6 673.98 281.1 673.91 281.37 673.31 281.6 672.2 282.1 669.2 282.35 669.69 283.35 672.46 283.6 672.6 286.85 672.61 287.63 672.47 288.6 672.61 291.35 672.61 292.1 671.56 292.6 672.06 292.85 672.24 293.36 671.65 294.35 672.49 294.6 672.56 295.61 672.23 296.35 672.41 297.18 672.12 298.6 672.52 299.17 672.44 300.35 672.59 301.41 672.07 301.6 672.14 301.85 671.99 302.13 671.73 303.35 672.55 303.6 672.12 304.3 670.3 305.1 671.74 305.35 672.1 306.1 672.58 306.85 672.64 307.85 672.42 309.35 672.65 309.85 672.65 310.94 671.54 312.1 672.43 312.35 672.39 312.82 671.91 313.35 672.3 313.6 672.18 314.01 671.54 314.6 672.19 314.85 672.39 315.35 672.08 315.6 672.01 315.94 671.73 317.35 672.57 317.6 672.59 318.66 671.89 319.6 672.38 319.98 672.25 320.85 672.63 321.6 672.67 321.85 672.54 322.55 671.78 323.6 672.59 323.85 672.57 324.28 672.34 324.85 672.56 326.1 672.67 328.85 672.68 329.1 672.66 330.02 671.74 330.35 671.84 330.8 671 331.85 672.36 332.5 672.01 333.85 672.53 335.35 672.69 337.35 672.69 338.19 672.58 339.35 672.69 339.85 672.7 340.1 672.5 340.6 671.87 340.85 672.1" stroke-width="0.8"/>
<path d="M387.6 678.3 392.1 680.35 392.35 680.3 395.1 678.55 395.35 675.37 395.71 670.02 395.85 671.42 396.1 637.23 396.3 591.6 396.6 644.25 396.8 535.7 397.1 657.23 397.18 673.86 397.28 672.33 397.35 669.16 397.7 562.5 398.1 656.27 398.2 668.89 398.31 655.15 398.6 582.7 398.85 631.08 399.1 674.46 399.48 667.62 399.6 605.37 399.7 544.6 399.85 601.57 400.1 675.49 400.35 678.3 400.6 678.3 400.85 647.55 401 627.5 401.35 663.49 401.6 668.53 401.61 668.2 402.1 676.92 402.35 678.3 402.6 676.22 402.85 674.01 402.97 648.6 403.1 604 403.35 656.84 403.56 672.97 403.9 628 404.35 674 404.6 676.93 405.19 668.39 405.6 672.77 405.85 581.16 405.9 552.5 406.13 634.23 406.27 672.23 406.35 673.25 406.48 673.68 406.85 676.19 407.03 676.12 407.1 676.48 407.35 677.2 407.85 678.26 408.1 668.15 408.3 561 408.6 661.51 408.85 678.96 409.1 677.99 409.55 674.86 410.35 679.05 410.6 679.19 411.1 679.25 411.48 677.82 411.85 678.97 412.1 679.27 412.65 668.56 413.1 674.88 413.35 677.76 413.6 678.91 413.85 658.54 414 645 414.35 669.1 414.6 673.97 414.85 667.94 415.1 646.8 415.35 662.92 415.6 670.29 415.8 665.16 416.35 674.64 416.6 676.41 416.72 675.83 416.85 676.2 417.1 675.04 417.34 671.24 417.85 676.66 418.1 675.66 418.27 672.58 418.35 632.91 418.5 536.8 418.6 576.79 418.85 676.54 419.1 672.56 419.16 671.33 419.35 672.58 419.58 663.39 419.85 671.08 419.89 672.07 420.35 675.82 420.6 677.2 420.85 676.85 421.18 675.8 421.35 672.18 421.67 663.81 421.85 667.26 422.1 649.5 422.35 663.52 422.6 674.33 422.85 675.63 423.11 674.36 423.85 676.99 424.1 676.26 424.46 674.35 424.6 674.89 424.77 674.48 424.85 674.44 424.93 673.43 425.1 674.83 425.35 675.62 425.6 676.09 425.85 674.39 425.95 673.35 426.1 659.35 426.3 639.8 426.6 662.44 426.85 674.05 427.1 661.88 427.3 645 427.74 673.2 427.85 675.01 428.1 674.46 428.41 672.18 429.1 675.8 429.35 676.93 429.6 676.92 429.85 673.91 430.02 670.72 430.1 659.45 430.3 485 430.6 648.52 430.85 674.13 430.93 673.68 431.1 674.35 431.35 669.99 431.53 662.9 431.85 672.22 431.89 673.06 432.35 676.09 432.6 674.13 432.9 664.3 433.1 669.32 433.35 662.42 433.4 660.78 433.85 672.05 434.1 676.66 434.35 676.46 434.8 671.97 434.85 672.29 435.1 669.06 435.34 663.47 435.85 671.75 436.1 672.38 436.4 657 436.85 674.63 437.1 676.32 437.6 676.25 437.85 673.32 438.25 666.22 438.85 673.77 439.1 676.03 439.35 603.55 439.5 448.3 439.85 674.63 440.1 675.88 441.1 675.74 441.35 670.41 441.6 660.2 441.85 667.99 442.1 675.59 442.35 671.42 442.63 663.24 442.85 667.65 443.1 664.37 443.17 662.5 443.35 664.84 443.57 657.53 443.75 662.59 443.85 664.48 443.97 659.4 444.35 671.01 444.6 675.3 445.02 661.84 445.1 663.58 445.35 664.42 445.5 657.3 445.85 670.06 446.1 675.31 447.35 675.26 447.6 669.16 447.8 536.1 447.9 418 448.1 564.15 448.35 672.64 448.39 672.92 448.6 668.81 448.77 662.61 449.1 670.9 449.35 674.76 449.6 674.94 450.04 669.65 450.6 674.5 450.85 673.72 451.04 672.94 451.1 673.13 451.35 672.6 451.63 661.36 451.85 667.66 452.1 673.25 452.35 664.69 452.5 657.9 452.65 663.01 452.85 667.02 453.03 659.43 453.35 668.57 453.4 667.5 453.82 673.56 454.1 674.25 454.35 672.03 454.64 665.45 454.85 668.72 455.1 531.98 455.2 412.8 455.35 524.54 455.6 675.02 455.85 664.66 456 657.9 456.35 670.05 456.6 675.05 456.85 674.39 457.37 659.26 457.85 669.19 458.1 670.58 458.36 665.99 458.6 669.02 458.85 669.23 459.05 664.97 459.1 665.7 459.35 666.42 459.48 663.77 459.6 656.4 459.7 649.7 459.85 657.43 460.1 669.68 460.22 670.9 460.35 666.76 460.55 658.73 460.85 667.63 461.1 661.96 461.17 659.97 461.35 663.94 461.43 615.99 461.6 398 461.85 594.9 462.1 669.04 462.35 673.19 462.6 675.25 463.6 675.29 463.85 673.38 464.1 670.55 464.35 671.67 464.56 664.57 464.7 667.63 464.9 658.37 465.35 673.53 465.6 675.35 465.85 675.36 466.1 671.29 466.4 656 466.85 673.67 467.1 675.4 467.35 675.41 467.6 359.3 467.85 583.83 468.1 675.43 468.44 673.88 468.6 673.88 468.65 673.6 468.85 674.49 469.1 674.84 469.31 674 469.35 673.39 469.77 661.14 470.1 667.82 470.35 667.88 470.46 665.91 470.85 670.82 471.1 650.8 471.3 623.4 471.6 654.99 471.85 672.29 472.06 669.5 472.6 674.41 472.91 673.41 473.1 672.37 473.22 670.96 473.35 572.77 473.5 353 473.6 444.56 473.85 673.1 474.1 675.29 474.35 674.52 474.6 671.13 474.78 666.79 475.1 672.36 475.35 674.88 475.6 670.06 475.86 658.35 476.1 665.97 476.35 663.58 476.5 656 476.85 669.57 477.1 673.1 477.35 670.91 477.52 668.2 477.85 672.06 478.1 673.36 478.2 672.75 478.35 673.35 478.45 673.62 478.51 673.47 478.85 674.18 479.1 500.48 479.2 355 479.54 661.39 479.6 671.43 479.7 671.4 479.85 668.7 480.04 663.58 480.1 664.79 480.35 659.2 480.37 658.56 480.6 664.08 480.67 662.92 480.85 664.54 480.94 661.78 481.24 668.15 481.35 667.09 481.6 652 481.85 663.59 482 667.58 482.1 668.66 482.35 665.18 482.43 663.42 482.6 666.12 482.7 667.22 482.85 669.74 483.1 672.27 483.35 673.92 483.56 672.61 483.6 672.79 483.85 669.59 484.07 662.73 484.1 645.89 484.3 356.8 484.6 627.79 484.85 664.46 484.89 663.5 485.1 667.59 485.27 663.73 485.35 664.56 485.44 660.13 485.6 665.95 485.85 674.28 486.1 674.1 486.35 673 486.5 672.06 486.8 668.77 486.85 669.18 487.04 667.81 487.1 668.94 487.35 671.7 487.57 665.39 487.85 670.9 488.1 672.73 488.29 668.44 488.35 669.41 488.6 648.82 488.8 391.3 489.11 641.55 489.35 667.41 489.6 665.16 489.64 663.59 489.85 670.1 490.1 671.7 490.35 673.21 490.6 674.44 491 664.62 491.1 666.39 491.31 665.09 491.35 663.46 491.62 671.21 491.85 665.69 492.04 659.36 492.6 672.46 492.85 674.23 493.35 674.18 493.6 394.8 493.86 597.15 494.1 669.7 494.28 667 494.35 667.67 494.6 668.96 494.7 666.1 494.85 669.25 495.1 667.66 495.12 667.11 495.35 670.78 495.44 670.56 495.65 662.35 495.85 668.34 496.1 671.96 496.35 670.71 496.6 669.04 496.87 660.94 497.35 671.18 497.44 670.12 497.85 673.72 498.1 417.5 498.35 599.46 498.6 673.19 498.85 670.63 499.21 663.89 499.35 665.76 499.48 662.79 499.6 665.09 499.85 659.28 499.9 656.74 500.1 663.44 500.35 669.04 500.6 665.67 500.83 659.3 500.85 659.69 501.1 658.58 501.13 656.84 501.42 668.19 501.6 671.15 501.8 669.56 501.98 670.35 502.1 650.96 502.3 427 502.6 636.91 502.77 667.72 502.85 668.8 503.1 670.21 503.35 665.65 503.41 663.25 503.6 668.55 503.85 673.18 504.1 671.68 504.52 660.43 504.85 666.77 505.02 656.19 505.1 659.87 505.35 666.18 505.6 670.31 505.69 669.93 505.85 671.19 506.1 652.52 506.3 448 506.6 639.69 506.85 672.55 507.34 657.77 507.6 663.41 507.85 667.38 507.95 663.72 508.1 667.49 508.35 670.06 508.4 669.79 509.1 672.5 509.35 671.45 509.57 670.36 509.6 670.46 509.66 669.79 509.88 667.07 510.1 651.99 510.3 446 510.6 639.06 510.64 666.42 510.86 662.41 511.1 665.6 511.22 665.23 511.34 662.16 511.36 662.58 511.51 658.94 511.85 666.5 512.01 665.38 512.35 668.49 512.6 667.53 512.92 659.18 513.35 666.97 513.59 665.14 513.8 451.3 514.1 639.48 514.35 668.38 514.49 666.16 514.85 670.06 515.1 662.09 515.25 654.97 515.6 666.6 515.85 655.88 516.1 664.67 516.14 665.15 516.26 658.72 516.44 665.25 516.6 664.81 516.92 654.87 517.08 658.46 517.1 652.05 517.3 455 517.6 639.67 517.77 664.88 517.85 666.15 518.1 667.57 518.21 665.81 518.35 667.42 518.6 661.12 518.7 657.9 519.1 666.88 519.35 665.05 519.39 664.3 519.85 670.55 520.1 669.78 520.35 664.33 520.37 663.75 520.45 665.28 520.6 652.48 520.8 464 521.1 640.64 521.28 654.72 521.35 656.94 521.6 663.35 521.87 655.67 522.35 665.58 522.6 668.38 522.85 669.86 523.1 669.05 523.15 668.71 523.35 667.87 523.42 666.96 523.6 668.53 523.94 664.83 524.1 651.1 524.3 453 524.6 638.66 524.76 662.71 524.88 659.59 525.08 660.51 525.1 660.06 525.24 656.11 525.35 658.3 525.46 658.48 525.85 665.12 526.09 654.33 526.35 663.41 526.43 661.96 526.6 664.58 526.85 668.57 527.1 668.96 527.29 658.88 527.5 494.7 527.71 601.83 527.85 661.3 528.1 661.07 528.14 661.35 528.6 667.61 528.85 668.6 529.1 662.71 529.35 666.96 529.49 664.85 529.85 669.15 530.1 670.93 530.85 671.03 531.1 521.5 531.35 627.72 531.49 668.4 531.85 670.4 532.1 671.08 532.85 671.11 533.1 669.88 533.3 666.72 533.35 667.26 533.58 662.92 534.1 670.57 534.35 667.96 534.56 664.27 534.64 663.06 534.87 665.93 535.1 564.3 535.35 640.27 535.49 653.52 535.6 656.75 535.85 663.77 535.92 662.53 536.1 664.65 536.32 661.47 536.6 665.47 536.85 667.12 537.09 661.22 537.35 666.02 537.59 655.98 537.76 663.39 537.85 662.84 537.88 661.75 538.06 662.4 538.1 662.96 538.3 661.91 538.35 662.75 538.6 659.53 538.69 656.79 538.85 660.37 539.04 660.1 539.11 661.68 539.35 645.52 539.5 589.2 539.61 615.04 539.85 664.13 539.89 663.52 540.35 668.92 540.6 667.53 540.76 664.42 541.1 669 541.35 671.68 541.6 672.09 542.17 671.35 542.35 670.69 542.55 669.39 542.6 669.65 542.75 669.92 542.9 669.14 543.6 671.87 543.85 672.44 544.35 672.51 544.6 667.6 544.8 618.2 545.1 664.58 545.35 669.82 545.63 665.64 546.1 670.75 546.35 672.78 546.6 672.81 546.85 672.06 547.01 671.45 547.1 671.72 547.35 670.79 547.55 668.14 547.6 668.66 547.85 670.39 547.98 669.33 548.1 670.02 548.22 670.24 548.28 670.63 548.35 669.97 548.46 668.42 548.85 672.3 549.1 673.13 549.35 673.04 549.6 672.69 549.81 672.08 550.28 666.32 550.6 669.15 550.85 645.72 550.9 637.6 551.1 657.95 551.35 669.42 551.6 672.03 551.85 673.49 553.85 673.75 554.1 672.33 554.38 669.42 554.85 673.03 555.1 673.91 556.1 674.04 556.35 673.56 556.65 672.69 556.85 671.81 556.98 670.63 557.35 673.06 557.6 674.24 557.85 674.27 558.1 651.4 558.35 667.7 558.6 672.58 558.99 666.53 559.1 667.7 559.35 667.96 559.42 667.03 559.6 668.66 559.85 668.79 559.93 667.06 560.35 673.58 560.58 671.43 560.85 673.29 561.1 674.69 563.6 675.02 563.85 671.44 564.05 668.02 564.6 675 564.85 675.02 565.32 672.41 565.85 674.55 566.1 675.27 566.35 675.29 566.6 661.1 566.85 671.21 566.97 671.02 567.1 672.02 567.2 671.57 567.35 672.54 567.38 672.32 567.85 674.64 568.15 673.92 568.6 675.2 568.85 674.32 568.97 673.71 569.1 674.18 569.35 674.38 569.58 673.36 570.1 675.07 570.35 675.56 574.6 675.84 575.89 675.1 576.35 675.34 576.6 674.93 577.4 666.6 578.6 675.38 578.74 675.7 578.96 675.6 579.1 675.66 579.35 675.41 580.1 676.06 580.85 675.97 581.33 675.37 581.85 675.87 582.1 676.06 582.6 675.88 583.85 676.35 585.35 676.41 586.52 675.57 588.1 676.49 589.1 676.56 589.35 676.18 590.2 669.6 591.35 675.85 591.6 676.65 592.1 676.54 592.6 676.31 593.35 676.64 593.85 676.73 595.15 676.43 595.6 676.49 596.38 675.7 597.85 676.85 598.6 676.92 599.9 676.51 601.6 677.06 603.1 677.12 603.35 677.12 604.6 676.65 604.85 675.72 605.5 671.9 606.6 676.41 606.85 676.68 607.6 677.01 607.85 677.05 608.1 676.98 609.05 676.27 610.6 677.13 610.85 677.23 611.6 677.11 611.85 677.15 612.73 676.58 613.35 676.89 613.76 676.72 615.1 677.29 616.6 677.36 617.85 676.73 618.1 676.77 618.3 676.46 618.85 677.06 619.35 677.33 620.35 677.41 621.11 677.39 621.35 677.31 621.89 676.79 622.35 677.12 623.1 677.34 623.35 676.41 624 673.7 625.1 676.9 625.35 677.05 625.69 676.88 626.1 677.03 626.41 676.91 627.6 677.39 627.85 677.32 628.23 677.09 628.85 677.37 629.6 677.54 629.85 677.55 630.1 677.42 631.07 676.56 632.35 677.4 632.6 677.52 633.35 677.15 633.6 677.27 633.85 677.25 634.49 676.86 635.1 677.13 635.35 677.09 635.85 677.39 636.85 677.62 637.35 677.61 638.13 676.57 638.85 677.27 639.1 677.45 639.76 676.97 640.1 677.18 640.69 676.86 641.6 677.3 641.85 677.17 642.25 676.72 642.85 677.23 643.1 677.25 643.78 676.59 645.1 677.53 645.35 677.66 645.6 677.19 646.3 675.2 647.6 677.79 649.35 677.81 650.1 677.78 651.24 677.44 652.6 677.79 654.1 677.84 654.35 677.8 655.14 677.38 656.35 677.87 658.6 677.95 659.25 677.43 660.1 677.94 661.35 677.98 661.6 677.92 662.3 677.38 663.35 677.98 663.6 678.02 664.77 676.96 665.35 677.37 665.6 677.5 665.85 677.16 666.6 677.89 666.85 677.96 667.66 677.46 668.1 677.59 668.43 677.35 669.1 677.7 670.1 678.1 671.45 677.44 672.6 677.89 673.4 676 674.35 677.59 674.85 677.81 676.1 678.15 676.35 678.08 676.94 677.07 677.6 677.89 677.85 678.08 678.67 677.47 679.6 677.99 680.21 677.77 680.6 677.88 680.85 677.79 681.32 677.4 682.6 678.19 682.85 678.28 683.85 678.3" stroke-width="0.75"/>
<path d="M84.5 236.16 85.5 236.23 86.5 236.42 87.5 236.63 88.5 236.25 89.5 236.23 90.5 236.31 91.5 236.68 92.5 236.25 93.5 236.67 94.5 236.61 95.5 236.25 96.5 236.52 97.5 236.46 98.5 236.44 99.5 236.85 100.5 236.22 101.5 236.16 102.5 236.81M400 231.29 401 231.4 402 231.65 403 231.77 404 231.83 405 231.54 406 232.02 407 231.73 408 231.72 409 231.64 410 232.01 411 231.81 412 231.94 413 232.23 414 232.39 415 232.43 416 232.01 417 232.04 418 232.23 419 232.49 420 232.74 421 232.76 422 232.9 423 232.71 424 232.8 425 232.6 426 232.67 427 232.64 428 232.92 429 233.03 430 233.05 431 232.97 432 233.05 433 232.96 434 233.4 435 233.27 436 233.43 437 233.51 438 233.18 439 233.1 440 233.26 441 233.74 442 233.69 443 233.46 444 233.76 445 233.49 446 233.9 447 233.4 448 233.89 449 234.1 450 233.74 451 233.78 452 233.55 453 233.65 454 233.63 455 233.68 456 233.52 457 233.69 458 233.56 459 233.85 460 233.77 461 233.65 462 234.16 463 233.72 464 233.88 465 234.14 466 234.04 467 234.19 468 233.95 469 234.14 470 233.58 471 234.05 472 233.77 473 233.77 474 234.08 475 234.07 476 233.79 477 233.81 478 233.76 479 234.22 480 234 481 233.76 482 233.95 483 233.62 484 233.77 485 233.94 486 234.27 487 234.2 488 233.99 489 234.14 490 233.79 491 234.1 492 234.32 493 233.73 494 234.28 495 234.32 496 233.89 497 234.21 498 234.33 499 233.75 500 233.98 501 234.07 502 234.22 503 233.85 504 234.2 505 234.17 506 234.28 507 234.2 508 234.29 509 234.12 510 234.08 511 234.03 512 233.99 513 234.04 514 234.07 515 234 516 233.83 517 234.01 518 234.4 519 233.96 520 234.44 521 234.34 522 234.08 523 233.92 524 234.39 525 234.44 526 234 527 234.25 528 234.32 529 234.23 530 233.88 531 233.97 532 234.32 533 234.26 534 234.29 535 234.02 536 234.45 537 234.38 538 234.18 539 234.44 540 234.06 541 234.23 542 234.22 543 234.54 544 234.53 545 234.11 546 234.43 547 234.09 548 234.51 549 234.52 550 234.38 551 233.93 552 234.12 553 234.03 554 234.27 555 233.95 556 233.97 557 234 558 234.55 559 234.37 560 234.56 561 234.62 562 234.36 563 234.56 564 234.27 565 234.4 566 234.1 567 234.3 568 234.06 569 234.32 570 234.67 571 234.7 572 234.53 573 234.05 574 234.71 575 234.4 576 234.5 577 234.32 578 234.58 579 234.26 580 234.13 581 234.38 582 234.19 583 234.22 584 234.21 585 234.57 586 234.56 587 234.24 588 234.57 589 234.11 590 234.76 591 234.27 592 234.47 593 234.37 594 234.72 595 234.43 596 234.25 597 234.74 598 234.55 599 234.33 600 234.65 601 234.78 602 234.68 603 234.72 604 234.42 605 234.34 606 234.22 607 234.82 608 234.36 609 234.46 610 234.77 611 234.29 612 234.87 613 234.62 614 234.35 615 234.81 616 234.71 617 234.3 618 234.6 619 234.76 620 234.46 621 234.51 622 234.88 623 234.39 624 234.47 625 234.39 626 234.65 627 234.62 628 234.51 629 234.39 630 234.42 631 234.86 632 234.75 633 234.91 634 234.43 635 235.02 636 234.85 637 234.77 638 234.96 639 234.43 640 234.81 641 234.61 642 234.42 643 234.94 644 234.43 645 234.93 646 234.62 647 235.02 648 234.48 649 234.78 650 235.13 651 234.83 652 234.89 653 234.83 654 234.89 655 234.76 656 234.67 657 234.7 658 235.08 659 234.73 660 235 661 235.17 662 235.17 663 235.12 664 235.16 665 234.99 666 234.92 667 234.62 668 234.61 669 234.77 670 234.91 671 234.92 672 234.59 673 234.99 674 234.84 675 234.87 676 234.66 677 235.15 678 235.18 679 235.14 680 234.71 681 234.65 682 235.31 683 235.08 684 235.31" stroke-width="1.1"/>
<path d="M48.6 678.2 49.6 678.3 50.6 678.36 51.6 678.78 52.6 678.5 53.6 678.65 54.6 678.22 55.6 678.51 56.6 678.35M222 672.15 223 672.36 224 672.41 225 672.56 226 672.21 227 672.75 228 672.53 229 672.71 230 672.78 231 672.96 232 672.56 233 672.69 234 672.99 235 672.96 236 673.14 237 672.93 238 673.4 239 672.8 240 673.36 241 673.13 242 672.91 243 673.38 244 672.96 245 673.11 246 673.19 247 673.09 248 673.12 249 673.08 250 673.64 251 673.12 252 673.19 253 673.15 254 673.76 255 673.52 256 673.73 257 673.86 258 673.54 259 673.49 260 673.51 261 673.44 262 673.69 263 673.97 264 673.67 265 673.86 266 673.97 267 673.95 268 673.86 269 673.79 270 673.5 271 673.71 272 674.06 273 673.8 274 673.98 275 673.71 276 673.95 277 673.72 278 674.13 279 674.17 280 673.63 281 674.11 282 672.72 283 672.92 284 672.38 285 672.34 286 672.88 287 672.69 288 672.27 289 672.59 290 672.84 291 672.38 292 672.79 293 672.47 294 672.58 295 672.55 296 672.31 297 672.55 298 672.64 299 672.71 300 672.66 301 672.4 302 672.71 303 672.49 304 672.92 305 672.36 306 672.83 307 672.35 308 672.69 309 672.54 310 672.62 311 672.78 312 672.86 313 672.3 314 672.92 315 672.76 316 672.38 317 672.8 318 672.88 319 672.57 320 672.93 321 672.43 322 672.64 323 672.49 324 672.9 325 672.54 326 672.5 327 673.03 328 672.62 329 672.65 330 672.82 331 672.46 332 672.9 333 672.82 334 672.68 335 672.9 336 672.96 337 672.41 338 673.02 339 672.71 340 672.9 341 672.82" stroke-width="1.1"/>
<path d="M387.6 678.35 388.6 678.85 389.6 679.43 390.6 679.51 391.6 680.23 392.6 680.42 393.6 679.8 394.6 678.65 395.6 678.41M562 674.69 563 675.28 564 675.39 565 675.49 566 675.47 567 675.6 568 675.05 569 675.56 570 675.36 571 675.76 572 675.62 573 675.78 574 675.83 575 675.92 576 676.16 577 676.34 578 675.96 579 676.35 580 676.47 581 676.16 582 676.02 583 676.32 584 676.55 585 676.42 586 676.22 587 676.62 588 676.4 589 676.83 590 676.37 591 676.71 592 676.6 593 677.06 594 676.51 595 677.07 596 676.78 597 676.79 598 676.72 599 676.96 600 677.3 601 677.39 602 677.39 603 677.2 604 676.98 605 677.21 606 677.32 607 677.09 608 677.58 609 676.96 610 677.08 611 677.08 612 677.06 613 677.01 614 677.14 615 677.25 616 677.66 617 677.4 618 677.47 619 677.29 620 677.18 621 677.47 622 677.6 623 677.16 624 677.57 625 677.28 626 677.63 627 677.41 628 677.27 629 677.28 630 677.75 631 677.59 632 677.29 633 677.87 634 677.45 635 677.46 636 677.28 637 677.51 638 677.7 639 677.95 640 677.55 641 677.7 642 677.42 643 677.86 644 677.6 645 677.67 646 677.61 647 678.01 648 678.13 649 677.56 650 677.79 651 677.57 652 678.03 653 678.15 654 677.62 655 678.02 656 677.77 657 677.89 658 677.99 659 677.87 660 678.07 661 677.86 662 677.99 663 677.91 664 677.97 665 677.79 666 677.95 667 677.79 668 678.16 669 678.03 670 678.05 671 678.4 672 677.89 673 678.17 674 678.24 675 678.27 676 678.37 677 678.1 678 678.51 679 678.35 680 677.95 681 678.33 682 678.28 683 678.59 684 678.46" stroke-width="1.1"/>
</g>
<text x="343.7" y="283" text-anchor="middle" class="lab">(a)</text>
<text x="185" y="742" text-anchor="middle" class="lab">(b)</text>
<text x="521" y="742" text-anchor="middle" class="lab">(c)</text>
</svg>
</body></html>
